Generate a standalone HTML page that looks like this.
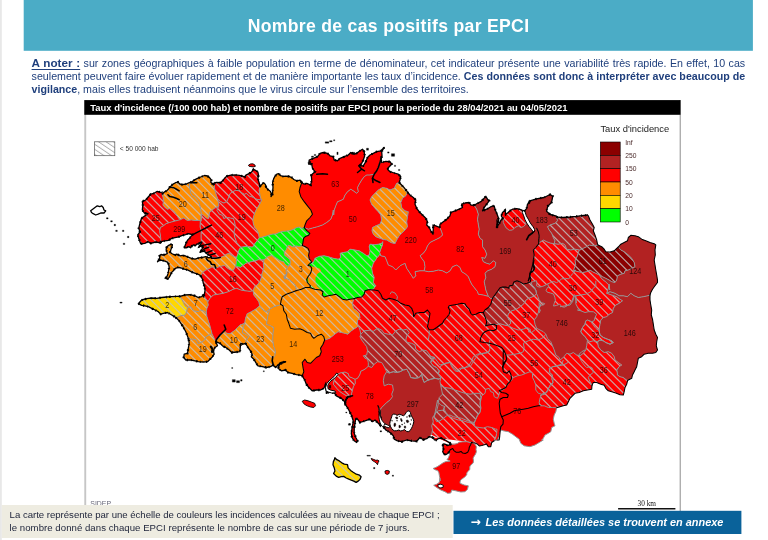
<!DOCTYPE html>
<html lang="fr">
<head>
<meta charset="utf-8">
<title>Nombre de cas positifs par EPCI</title>
<style>
html,body{margin:0;padding:0;}
body{width:768px;height:540px;overflow:hidden;background:#fff;position:relative;font-family:"Liberation Sans",sans-serif;}
.map{position:absolute;left:0;top:0;width:768px;height:540px;}
h1{position:absolute;left:24px;top:14.3px;width:729px;margin:0;text-align:center;color:#fff;font-weight:bold;font-size:17.6px;line-height:24px;letter-spacing:0.32px;white-space:nowrap;}
.note{position:absolute;left:31.6px;top:0;width:713.6px;height:100px;margin:0;color:#1f3f7c;font-size:10.67px;line-height:13px;}
.note .ln{position:absolute;left:0;width:713.6px;display:block;white-space:nowrap;text-align:justify;text-align-last:justify;height:13px;}
.note .l1{top:56.8px}.note .l2{top:69.9px}.note .l3{top:82.8px}
.note .ln.last{text-align-last:left;}
.note .an{font-weight:bold;font-size:11.7px;line-height:1px;text-decoration:underline;text-decoration-thickness:1px;text-underline-offset:1.5px;}
.note b{font-weight:bold;}
.cap{position:absolute;left:9.6px;top:507.5px;margin:0;color:#1c2238;font-size:9.6px;line-height:13.4px;white-space:nowrap;}
.cta{position:absolute;left:470.6px;top:510.9px;width:260px;margin:0;text-align:left;color:#fff;font-weight:bold;font-style:italic;font-size:10.93px;line-height:23px;white-space:nowrap;}
.cta .ar{font-family:"DejaVu Sans",sans-serif;font-style:normal;font-weight:bold;font-size:12.2px;line-height:1px;display:inline-block;width:14.9px;position:relative;top:0.6px;}
</style>
</head>
<body>
<svg class="map" width="768" height="540" viewBox="0 0 768 540">
<defs>
<filter id="bl" x="0" y="0" width="768" height="540" filterUnits="userSpaceOnUse"><feGaussianBlur stdDeviation="0.5"/></filter>
<path id="hl" d="M-522.9,100l420,420M-515,100l420,420M-507.1,100l420,420M-499.2,100l420,420M-491.3,100l420,420M-483.4,100l420,420M-475.5,100l420,420M-467.6,100l420,420M-459.7,100l420,420M-451.8,100l420,420M-443.9,100l420,420M-436,100l420,420M-428.1,100l420,420M-420.2,100l420,420M-412.3,100l420,420M-404.4,100l420,420M-396.5,100l420,420M-388.6,100l420,420M-380.7,100l420,420M-372.8,100l420,420M-364.9,100l420,420M-357,100l420,420M-349.1,100l420,420M-341.2,100l420,420M-333.3,100l420,420M-325.4,100l420,420M-317.5,100l420,420M-309.6,100l420,420M-301.7,100l420,420M-293.8,100l420,420M-285.9,100l420,420M-278,100l420,420M-270.1,100l420,420M-262.2,100l420,420M-254.3,100l420,420M-246.4,100l420,420M-238.5,100l420,420M-230.6,100l420,420M-222.7,100l420,420M-214.8,100l420,420M-206.9,100l420,420M-199,100l420,420M-191.1,100l420,420M-183.2,100l420,420M-175.3,100l420,420M-167.4,100l420,420M-159.5,100l420,420M-151.6,100l420,420M-143.7,100l420,420M-135.8,100l420,420M-127.9,100l420,420M-120,100l420,420M-112.1,100l420,420M-104.2,100l420,420M-96.3,100l420,420M-88.4,100l420,420M-80.5,100l420,420M-72.6,100l420,420M-64.7,100l420,420M-56.8,100l420,420M-48.9,100l420,420M-41,100l420,420M-33.1,100l420,420M-25.2,100l420,420M-17.3,100l420,420M-9.4,100l420,420M-1.5,100l420,420M6.4,100l420,420M14.3,100l420,420M22.2,100l420,420M30.1,100l420,420M38,100l420,420M45.9,100l420,420M53.8,100l420,420M61.7,100l420,420M69.6,100l420,420M77.5,100l420,420M85.4,100l420,420M93.3,100l420,420M101.2,100l420,420M109.1,100l420,420M117,100l420,420M124.9,100l420,420M132.8,100l420,420M140.7,100l420,420M148.6,100l420,420M156.5,100l420,420M164.4,100l420,420M172.3,100l420,420M180.2,100l420,420M188.1,100l420,420M196,100l420,420M203.9,100l420,420M211.8,100l420,420M219.7,100l420,420M227.6,100l420,420M235.5,100l420,420M243.4,100l420,420M251.3,100l420,420M259.2,100l420,420M267.1,100l420,420M275,100l420,420M282.9,100l420,420M290.8,100l420,420M298.7,100l420,420M306.6,100l420,420M314.5,100l420,420M322.4,100l420,420M330.3,100l420,420M338.2,100l420,420M346.1,100l420,420M354,100l420,420M361.9,100l420,420M369.8,100l420,420M377.7,100l420,420M385.6,100l420,420M393.5,100l420,420M401.4,100l420,420M409.3,100l420,420M417.2,100l420,420M425.1,100l420,420M433,100l420,420M440.9,100l420,420M448.8,100l420,420M456.7,100l420,420M464.6,100l420,420M472.5,100l420,420M480.4,100l420,420M488.3,100l420,420M496.2,100l420,420M504.1,100l420,420M512,100l420,420M519.9,100l420,420M527.8,100l420,420M535.7,100l420,420M543.6,100l420,420M551.5,100l420,420M559.4,100l420,420M567.3,100l420,420M575.2,100l420,420M583.1,100l420,420M591,100l420,420M598.9,100l420,420M606.8,100l420,420M614.7,100l420,420M622.6,100l420,420M630.5,100l420,420M638.4,100l420,420M646.3,100l420,420M654.2,100l420,420M662.1,100l420,420M670,100l420,420M677.9,100l420,420M685.8,100l420,420M693.7,100l420,420M701.6,100l420,420M709.5,100l420,420M717.4,100l420,420M725.3,100l420,420M733.2,100l420,420M741.1,100l420,420M749,100l420,420M756.9,100l420,420" fill="none" stroke="#c2c2c2" stroke-width="1.2" stroke-opacity="0.82"/>
<pattern id="h2" width="6" height="4.2" patternUnits="userSpaceOnUse" patternTransform="translate(95 142) rotate(34)"><rect x="0" y="1.6" width="6" height="0.75" fill="#999"/></pattern>
<clipPath id="c1"><path id="p1" d="M353.7,298.7 357.5,297.5 361.7,297 364.2,294.2 365,290.8 368.3,289.7 370,289.7 370,289.7 374.2,290 378.3,290.8 380.8,294.2 382.5,298.3 385.8,300 389.2,298.3 393.3,299.2 397.5,300.8 400.8,303.3 405,305 409.2,305.8 411.7,308.3 413.3,312.5 413.7,316.7 415.8,313.3 420,312.5 424.2,312.5 427.5,310 430,313.3 429.2,318.3 428.3,322.5 427.5,326.7 429.2,329.7 429.2,329.7 433.3,329.7 436.7,327.5 440,325 442.5,323.3 444.2,320 446.7,317.5 449.2,314.2 450,310.8 448.3,307.5 449.2,305.8 453.3,305 457.5,304.2 461.7,303.3 465,303.7 466.7,306.7 469.2,309.2 470.8,313.3 472.5,315 475.8,314.2 479.2,312.5 483.3,312.5 483.3,312.5 485,316.7 486.7,321.7 485.8,325.8 485.8,325.8 490,324.7 494.2,324.2 494.2,324.2 496.7,324.7 500,323.7 504.2,325 508.3,325.8 510.8,323.3 510,320 508.8,319.8 507.6,316.7 508.2,314.2 510.1,311.7 512.6,310.4 515.1,309.8 517.6,308.5 520.2,306.6 522.7,304.7 524.6,302.8 525.8,300.3 528.3,298.4 531.5,297.2 534.6,295.9 536.5,293.4 535.9,290.2 534,287.1 532.1,285.2 530.9,282.4 528.3,280.8 529.7,277.5 530,273.3 532.5,271.7 534.2,269.2 533,265 533.3,260 534.2,255 533.3,250 535.8,247.5 538.7,243.7 538.7,243.7 540.8,241.7 543.3,240 546.7,241.7 550,243 554.2,243.7 554.2,243.7 558.3,244.2 562.5,243.3 565,245 566.7,249.2 570.8,250 575,249.2 579.2,250 579.2,250 578.3,253.3 576.7,257.5 575,260.8 575.8,265 574.2,268.3 573.7,270.8 573.7,270.8 575,270.8 578.3,271.7 582.5,272.5 586.7,271.7 590,270 592.5,271.7 595.8,273.3 599.2,275 599.2,275 601.7,278.7 605.8,282 609.2,285.3 609.7,290 609.2,284.2 608.3,288.3 606.7,293.3 606.7,293.3 611.7,295 616.7,296.7 620,299.2 622.5,300.8 619.2,303.3 615.8,305 613.3,308.3 612.5,312.5 609.2,314.2 606.7,316.7 603.3,317.5 600.8,320 600,324.2 599.2,328.3 599.2,330.8 600,335 603.3,337.5 607.5,339.2 611.7,340.8 613.3,342.5 610,344.2 605.8,342.5 603.3,340.8 600,340 597.5,341.7 598.3,346.7 600.8,350 604.2,352.5 608.3,351.7 611.7,353.3 614.2,356.7 615,360 618.3,362.5 621.7,365 619.2,366.7 616.7,370 617,370.8 617.5,375 620,376.7 623.3,377.5 627.5,380.8 627.5,380.8 626.7,384.2 625,387.5 624.2,391.7 623.3,395 620,394.7 615.8,393 611.7,391.7 608.3,390.8 605.8,388.3 604.2,385.3 600.8,384.2 596.7,382.5 593.3,382.5 592,385.3 592,385.3 591.7,389.2 587.5,390 583.3,390.8 579.2,392.5 575,393.3 572.5,395.8 570,398.3 568.3,401.7 566.7,405 563.3,405.8 560,406.7 556.7,407.8 550,413.3 498.3,430 494.2,440.8 491.7,442.5 490.8,446.7 488.3,446.7 486.7,444.2 488.1,446.4 486.4,443.9 484.3,444.8 481.8,445.6 479.3,446 477.7,444.3 475.2,443.1 472.7,442.7 471.8,442.3 451,444.1 454.3,444.3 457.7,443.3 459.3,442.2 462.7,441.8 466.8,441.7 470.2,442.5 471.8,442.3 433,437.5 434.3,439.8 436,440.2 438.5,438.5 441,438.1 443.9,439.3 446.8,441 450.2,443.1 451,444.1 400,420 380,380 345,350 358.3,325.8 357.5,324.2 357.5,320.8 360,317.5 359.2,313.3 356.7,310.8 353.3,308.3 352.5,303.3 353.7,298.7Z"/></clipPath>
<clipPath id="c2"><path id="p2" d="M160.7,242.8 155.7,242 150.7,243.3 148.2,241.7 144.8,243.3 140.7,243.8 139.3,240 137.7,235 140,232 138.7,228.3 139.7,224.2 141.5,218.3 145.7,215.3 148,213.7 144.3,213 142.3,210 142.8,205 142.3,201.3 145.7,200 148.2,197 150.7,194.2 154,193.3 157.3,191.3 161,192.5 162.3,192 162.2,194 163,197.2 163.5,201 162.9,205 164.8,207.3 167.3,209.2 169.8,208.5 172.3,209.8 174.8,212.3 176.7,215.5 178.9,218.4 180.5,219.6 180.5,219.6 174.8,221.1 169.8,222.4 166,223.7 162.9,226.2 160.3,227.4 159.7,231.2 160.3,235 160.7,237.5 160.7,242.8Z"/></clipPath>
<clipPath id="c3"><path id="p3" d="M162.2,194 164.1,192.2 166.6,190.9 168.5,189 169.8,187.1 172.3,184.6 175.5,182.7 178,182.1 179.9,184 182.4,184.6 186.2,184 189.3,182.7 190.2,182.6 190.2,182.6 189.3,185.9 190,189.6 190.6,192.8 191.8,195.3 195,197.2 197.5,200.3 199.4,202.9 200,206 200.7,209.8 201.3,213.6 201,221.1 201,221.1 198.8,220.5 195,220.5 191.2,219.9 187.4,220.5 183.7,218 180.5,219.6 180.5,219.6 178.9,218.4 176.7,215.5 174.8,212.3 172.3,209.8 169.8,208.5 167.3,209.2 164.8,207.3 162.9,205 163.5,201 163,197.2 162.2,194Z"/></clipPath>
<clipPath id="c4"><path id="p4" d="M190.2,182.6 192.5,181.4 195,179.6 197.5,178.3 200.7,177 204.4,175.5 207.6,176 210.1,178.3 211.4,180.2 210.7,182.1 212.6,184 214.1,184.6 214.1,184.6 214.6,188.4 215.4,192.2 216.7,195.9 217.7,198.7 217.7,198.7 218.4,202.2 218.9,205.4 218.9,205.4 217.7,206.6 213.9,208.5 211.4,211.1 209.5,212.3 209.1,215.5 208.6,218.4 206.3,218 203.8,215.5 201.5,214.2 201,221.1 201,221.1 201.3,213.6 200.7,209.8 200,206 199.4,202.9 197.5,200.3 195,197.2 191.8,195.3 190.6,192.8 190,189.6 189.3,185.9 190.2,182.6Z"/></clipPath>
<clipPath id="c5"><path id="p5" d="M214.1,184.6 212.3,183.9 216.3,182.4 220.7,182.7 222.6,180.8 224.5,178.3 227,176.1 230.8,175.1 235.2,174.9 239.6,175.4 243,176.4 244.8,176.9 245.9,175.1 248.4,173.9 251.6,172 253.5,169.4 256,170.7 257.9,172 258.5,175.1 257.9,178.9 259.1,182.7 259.8,185.2 259.9,186.7 259.9,186.7 259.1,190.2 259.8,194 260.4,197.8 261.7,200.1 261.7,200.1 256.9,199.3 252.8,197.2 249.1,195.9 246.5,193.4 244.3,194.3 242.1,193 239,190.9 235.8,190.2 233.3,191.5 230.2,193.4 228.6,197.2 227,201.3 223.9,203.1 220.7,201.6 217.7,198.7 217.7,198.7 216.7,195.9 215.4,192.2 214.6,188.4 214.1,184.6Z"/></clipPath>
<clipPath id="c6"><path id="p6" d="M201.6,242.2 199.5,246.6 203.2,245.9 202,249.1 200.1,252.2 204.5,251.2 206.4,253.5 208.9,255 211.4,257 211.4,257 215.2,257.9 220.3,257.5 224,256 226.6,254.1 229.1,253.5 231.6,255.4 234.1,256.6 236.6,257.3 236.6,257.3 237.9,253.5 239.1,249.7 240.7,247.2 240.7,247.2 239.1,245.3 236.6,242.2 234.7,237.1 233.9,232.1 235.1,227.7 235.2,225.5 234.6,221.7 233.3,218.6 230.2,218 226.4,217.3 223.9,218.6 222.6,215.4 219.4,214.2 216.9,210.4 218.9,205.4 218.9,205.4 217.7,206.6 213.9,208.5 211.4,211.1 209.5,212.3 209.1,215.5 208.6,218.4 206.3,218 203.8,215.5 201.5,214.2 201,221.1 201,221.1 200.3,222 200.1,227 201.4,230.8 201.1,234.6 201.1,238.4 201.6,242.2Z"/></clipPath>
<clipPath id="c7"><path id="p7" d="M218.9,205.4 218.4,202.2 217.7,198.7 217.7,198.7 220.7,201.6 223.9,203.1 227,201.3 228.6,197.2 230.2,193.4 233.3,191.5 235.8,190.2 239,190.9 242.1,193 244.3,194.3 246.5,193.4 249.1,195.9 252.8,197.2 256.9,199.3 261.7,200.1 261.7,200.1 260.4,202.8 258.5,206 256.6,209.1 254.7,212.9 253.5,216.7 252.8,220.5 253.5,224.3 254.7,227.6 256.3,229.1 258.2,232.6 258.9,235.8 259.2,237.9 259.2,237.9 257,240.8 254.5,244 252.6,247.1 249.4,246.7 245.6,246.5 240.7,247.2 240.7,247.2 239.1,245.3 236.6,242.2 234.7,237.1 233.9,232.1 235.1,227.7 235.2,225.5 234.6,221.7 233.3,218.6 230.2,218 226.4,217.3 223.9,218.6 222.6,215.4 219.4,214.2 216.9,210.4 218.9,205.4Z"/></clipPath>
<clipPath id="c8"><path id="p8" d="M211.4,257 208.9,257.9 205.8,256.6 202.6,257.3 198.8,257.9 195.1,259.2 191.9,258.5 188.8,257.3 185.6,256 182.5,255.4 179.9,255.8 176.8,254.1 175.5,255 173.6,254.5 171.7,253.5 170.1,252.2 171.1,249.1 172.1,246.6 172.4,244.7 170.9,244.4 168.6,245.3 166.7,247.2 166.1,249.1 166.7,251.6 167.3,253.5 165.4,254.5 162.9,255 161,254.5 159.5,256 159.8,257.9 158.5,259.8 157.5,261.8 159.8,260 162.3,260.4 164.8,261.1 167.3,262.1 168.6,264.2 169.2,267.4 168.6,270.5 168,273.7 167.1,276.2 165.8,278.1 167.3,279.3 169.2,277.4 170.5,274.9 171.7,272.4 173.6,270.5 174.9,268.6 178,267.4 181.2,268 184.3,269.2 187.5,269.9 190,271.1 192.5,272.4 196.3,273.7 199.5,274.9 200.7,275.9 200.7,275.9 202.6,272.4 205.1,270.5 207.7,269.2 210.2,268 212.1,266.7 215.2,268 216.5,268 219,266.7 221.5,266.1 224.7,265.5 227.2,268 230.3,269.9 233.1,270.5 235.6,266.3 235.6,266.3 236,264.8 236.4,261.1 236.6,257.3 236.6,257.3 234.1,256.6 231.6,255.4 229.1,253.5 226.6,254.1 224,256 220.3,257.5 215.2,257.9 211.4,257Z"/></clipPath>
<clipPath id="c9"><path id="p9" d="M236.6,257.3 237.9,253.5 239.1,249.7 240.7,247.2 240.7,247.2 245.6,246.5 249.4,246.7 252.6,247.1 254.5,244 257,240.8 259.2,237.9 259.2,237.9 262.6,237 265.8,236.2 269.6,234.9 272.7,234.1 275.9,233.9 279,232.6 282.2,231.4 286,231.1 289.7,230.7 292.9,229.5 296.7,227.6 299.2,227 301.7,228.2 304.2,227.6 304.2,227.6 306.7,230.7 309.9,233.3 308.6,235.2 305.5,236.4 303.6,238.3 303,242.1 302.3,245.6 302.3,245.6 299.2,246.5 296,245.9 292.9,247.1 291,245.9 288.5,245.2 287.2,247.1 286,250.3 284.1,252.2 284.7,255.3 287.2,257.2 289.7,259.1 290.4,262.2 289.7,265.4 289.7,265.4 287.2,266 284.7,263.5 283.4,261.6 280.9,261 278.4,259.7 275.9,257.8 273.4,256.6 271.5,255.6 268.3,256.3 265.8,258.5 263.9,259.7 263.9,259.7 260.8,260.1 258.2,259.7 255.1,261 251.9,261.6 248.2,262.6 245.6,263.5 243.1,265.4 240.6,267.3 238.7,266.9 235.6,266.3 235.6,266.3 236,264.8 236.4,261.1 236.6,257.3Z"/></clipPath>
<clipPath id="c10"><path id="p10" d="M180,296.3 176.7,296.3 171.7,296.7 166.7,297 161.7,297.5 156.7,298.3 151.7,298 146.7,298.7 141.7,300 138.3,303.7 141.7,305.3 145,305.8 148.3,306.7 151.7,308.3 155,310 158.3,311.7 160.8,314.2 163.3,313.3 167.5,312.5 171.7,315 175.8,317.5 175.8,317.5 176.7,317.5 180,315.8 185,315 186.7,311.7 187.5,307.5 187.5,307.5 185,305.8 183.3,302.5 181.7,299.2 180,296.3Z"/></clipPath>
<clipPath id="c11"><path id="p11" d="M203.3,295 201.7,296.7 198.3,297.5 195,295.8 190,294.7 185,295 180,296.3 180,296.3 181.7,299.2 183.3,302.5 185,305.8 187.5,307.5 187.5,307.5 190.8,306.7 193.3,310.8 198.3,311.7 200.8,310 203.3,310.8 205.8,312.5 206.7,315 206.7,315 206.3,311.7 207,308.3 208.3,305 207.7,302 207.7,302 205.8,298.7 203.3,295Z"/></clipPath>
<clipPath id="c12"><path id="p12" d="M175.8,317.5 179.2,320.8 182.5,325.8 185.8,331.7 188.3,338.3 188.7,340 188.7,340 192.5,338.8 196.3,340 198,343.7 202,342 204.7,340 205.8,336.7 209.2,335 212,333.7 212,333.7 210.8,329.2 209.7,325 208.3,320.8 207,316.7 206.7,315 206.7,315 205.8,312.5 203.3,310.8 200.8,310 198.3,311.7 193.3,310.8 190.8,306.7 187.5,307.5 187.5,307.5 186.7,311.7 185,315 180,315.8 176.7,317.5 175.8,317.5Z"/></clipPath>
<clipPath id="c13"><path id="p13" d="M188.7,340 189.2,343.3 188.3,348.3 187.5,353.3 184.2,354.2 183.7,357.5 185.8,360 190.8,360 195,360.8 198.3,361.7 203.3,362 207.5,361.7 210,359.2 212.5,356.7 214.2,354.2 213.3,350.8 215,347.5 217.5,345.8 215.8,341.7 215.8,341.7 214.2,338.3 213,335.8 212,333.7 212,333.7 209.2,335 205.8,336.7 204.7,340 202,342 198,343.7 196.3,340 192.5,338.8 188.7,340Z"/></clipPath>
<clipPath id="c14"><path id="p14" d="M215.8,341.7 220,343.3 222.5,345.8 225.8,347.5 229.2,350 231.7,352.5 236.7,352 240,351.7 240.3,346.7 240.8,343.3 243.3,344.2 245.5,343.3 245.5,343.3 246.3,340 248.8,336.7 245.5,334.2 242.2,332.5 243,328.3 244.7,323.3 244.7,323.3 240,325 236.7,328.3 234.2,330.8 230,333.7 226.7,333.3 224.2,330.8 222.5,333.7 220,335.8 217.5,339.2 215.8,341.7Z"/></clipPath>
<clipPath id="c15"><path id="p15" d="M200.7,275.9 202.5,279.2 203.3,283.3 204.7,286.7 205,290.8 204.2,294.7 203.7,297 203.3,295 203.3,295 205.8,298.7 207.7,302 207.7,302 210,298.3 213.3,295 218.3,294.2 223.3,293.3 228.3,291.7 233.3,289.2 236.7,288.3 240.8,290 245,290.8 250,291.3 253,290.8 253,290.8 254.7,286.7 258,284.2 260.5,280 262.2,275 261.4,275.5 262.6,271.7 263.9,267.9 263.3,264.1 263.9,259.7 263.9,259.7 260.8,260.1 258.2,259.7 255.1,261 251.9,261.6 248.2,262.6 245.6,263.5 243.1,265.4 240.6,267.3 238.7,266.9 235.6,266.3 235.6,266.3 233.1,270.5 230.3,269.9 227.2,268 224.7,265.5 221.5,266.1 219,266.7 216.5,268 215.2,268 212.1,266.7 210.2,268 207.7,269.2 205.1,270.5 202.6,272.4 200.7,275.9Z"/></clipPath>
<clipPath id="c16"><path id="p16" d="M263.9,259.7 265.8,258.5 268.3,256.3 271.5,255.6 273.4,256.6 275.9,257.8 278.4,259.7 280.9,261 283.4,261.6 284.7,263.5 287.2,266 289.7,265.4 289.7,265.4 287.2,267.9 286,271.1 286.6,274.2 284.1,276.7 284.7,279.3 287.2,272.5 283.8,277.5 289.7,280 294.7,284.2 296.3,288.3 296,290.8 296,290.8 291.3,292.5 286.3,294.2 282.2,296.7 281,300.8 280.5,304.2 280.5,304.2 279.7,305 273.8,306.7 269.7,309.2 269.7,309.2 266.3,311.7 263,310 259.7,305.8 259.7,305.8 258.8,301.7 256.3,298.3 253.8,295 253,290.8 253,290.8 254.7,286.7 258,284.2 260.5,280 262.2,275 261.4,275.5 262.6,271.7 263.9,267.9 263.3,264.1 263.9,259.7Z"/></clipPath>
<clipPath id="c17"><path id="p17" d="M289.7,265.4 290.4,262.2 289.7,259.1 287.2,257.2 284.7,255.3 284.1,252.2 286,250.3 287.2,247.1 288.5,245.2 291,245.9 292.9,247.1 296,245.9 299.2,246.5 302.3,245.6 302.3,245.6 304.9,246.5 308,248.4 309.3,251.5 308.6,255.3 309.3,259.1 311.1,261 311.4,262.4 311.4,262.4 309.9,263.5 308,265.4 310.5,266 311.8,268.5 311.1,271.7 309.9,274.2 308,276.7 306.7,279.3 307.3,282.5 310.5,285.8 309.7,287.5 309.7,287.5 305.5,287.5 301.3,289.2 296,290.8 296,290.8 296.3,288.3 294.7,284.2 289.7,280 283.8,277.5 287.2,272.5 284.7,279.3 284.1,276.7 286.6,274.2 286,271.1 287.2,267.9 289.7,265.4Z"/></clipPath>
<clipPath id="c18"><path id="p18" d="M245.5,343.3 248,347.5 250.5,350.8 252.2,354.2 251.3,356.7 253.8,359.2 256.3,363.3 258,365.8 262.2,366.7 266.3,367.5 270.5,366.7 273,365 273,365 272.2,360.8 273,357.5 274.7,355.8 275.5,351.7 273.8,346.7 272.7,340 273,333.3 273.8,327.5 270.5,325.8 266.3,324.2 267.2,320 268,315 269.7,309.2 269.7,309.2 266.3,311.7 263,310 259.7,305.8 259.7,305.8 255.5,309.2 251.3,311.7 247.2,313.7 245.5,318.3 244.7,323.3 244.7,323.3 243,328.3 242.2,332.5 245.5,334.2 248.8,336.7 246.3,340 245.5,343.3Z"/></clipPath>
<clipPath id="c19"><path id="p19" d="M336.7,375 335.8,375.8 334.2,380 333.3,384.2 336.7,388.3 340,391.7 345,395 346.7,395.8 350.8,396.3 350.8,396.3 351.7,393.3 352.5,390 353.3,386.7 355.3,383.3 355,379.3 355,379.3 352.5,378 349.2,376.7 348.3,373.7 345,372 340,373 336.7,375Z"/></clipPath>
<clipPath id="c20"><path id="p20" d="M360.8,334.2 364.2,330.8 369.2,330.3 373.3,331.3 377.5,328.3 381.7,330 384.2,333.3 388.3,334.2 392.5,335 395.8,330.8 399.2,329.2 403.3,330 406.7,329.2 409.2,332.5 406.7,335.8 405.8,340 407.5,342.5 411.7,343.3 415,345 415.8,349.2 419.2,351.7 423.3,350 426.7,350.8 429.2,354.2 429.2,354.2 430.8,356.7 435,357.5 431.7,359.2 430.8,362.5 433.3,365.8 436.7,367.5 439.2,370.8 438.3,374.2 440.8,377.5 440.8,377.5 439.2,379.2 435,378.3 430.8,379.2 426.7,380.8 424.2,382.5 422.5,378.3 421.7,374.2 419.2,377.5 415,378.3 410.8,377.5 409.2,373.3 406.7,369.2 403.3,370 400,371.7 396.7,372.5 393.3,371.7 389.2,373 386.7,371.7 386.7,371.7 385,368.3 383.3,365 381.7,362.5 377.5,361.7 374.2,364.2 371.7,367.5 368.3,366.3 368.3,366.3 368.3,362.5 367.5,359.2 365,358.3 363.3,355.8 366.7,355 367.5,350.8 366.7,346.7 364.2,343.3 361.7,340 360,336.7 360.8,334.2Z"/></clipPath>
<clipPath id="c21"><path id="p21" d="M399.2,182.5 403.3,186.7 406.7,190.8 407.5,192.2 407.5,192.2 405.8,195.8 402.5,198.3 400.8,202.5 401.7,207.5 405,210.8 408.3,211.7 407.5,216.7 406.7,221.7 407.5,226.7 405,230 401.7,233.3 399.2,235.8 396.7,240 395,243.7 390.8,242.5 386.7,240 383.3,239.5 383.3,239.5 379.2,238 375.8,236.7 373.3,234.2 372,230.8 372.5,227.5 375.8,225.8 380,224.2 381.7,220 380.8,215 378.3,211.7 375,208.3 371.7,204.2 370,200 371.7,196.7 375,193.3 378.3,190 382.5,187.5 386.7,188.3 390,190 394.2,188.3 396.7,183.3 399.2,182.5Z"/></clipPath>
<clipPath id="c22"><path id="p22" d="M503,218.7 501.3,215.8 502.5,212.5 505,210.3 505.8,214.2 507.5,213 510,210.8 512.5,209.2 516.7,208.7 520.8,209.7 524.2,211.3 525.8,215.8 526.7,217.5 526.7,217.5 525.8,224.2 523.3,226.7 520.8,227.5 518.3,225.8 515,227.5 512.5,230 509.2,230.3 505.8,227.5 503.3,222.5 503,218.7Z"/></clipPath>
<clipPath id="c23"><path id="p23" d="M556.7,217.2 563.3,217.5 570,217 576.7,216.3 580,215.8 587.5,215 587.5,215 588.3,215.8 590,220 592.5,224.2 594.2,227.5 593.3,230.8 595,235 596.7,240 597.5,244.2 598,245 598,245 593.3,245.8 589.2,245 586.7,246.7 583.3,248.3 580,250 579.2,250 579.2,250 575,249.2 570.8,250 566.7,249.2 565,245 562.5,243.3 558.3,244.2 554.2,243.7 554.2,243.7 555,240.8 553.3,237.5 551.7,233.3 549.2,230 547.5,226.7 550,225 555,223.3 557.5,220.8 556.7,217.2Z"/></clipPath>
<clipPath id="c24"><path id="p24" d="M598,245 601.7,246.7 604.2,249.2 605.8,251.7 610,252 614.2,250.8 616.7,248.3 618.3,247 618.3,247 620.8,250 624.2,251.7 628.3,255 631.7,258.3 634.2,262.5 635,266.7 631.7,268.3 628.3,270 625,270.8 624.2,273.3 620.8,274.2 617.5,275.8 616.7,280 615,282.5 611.7,281.7 609.2,280 605.8,278.3 602.5,276.7 599.2,275 599.2,275 595.8,273.3 592.5,271.7 590,270 586.7,271.7 582.5,272.5 578.3,271.7 575,270.8 573.7,270.8 573.7,270.8 574.2,268.3 575.8,265 575,260.8 576.7,257.5 578.3,253.3 579.2,250 579.2,250 580,250 583.3,248.3 586.7,246.7 589.2,245 593.3,245.8 598,245Z"/></clipPath>
<clipPath id="c25"><path id="p25" d="M311.4,262.4 313.3,262.5 315,258.3 319.2,256.3 324.2,255.8 328.3,256.7 333.3,258.3 338.3,259.2 340.8,257.5 340,253.3 343.3,252.5 347.5,251.7 350,249.2 355,250 359.2,250.8 363.3,253.3 366.7,255.8 369.2,255 370,250.8 369.2,246.7 370,244.2 374.2,244.7 378.3,244.2 381.7,243.3 382.8,241.7 382.8,241.7 382.5,245 380.8,249.2 379.7,252.5 380.8,255.8 380.8,255.8 380,254.2 376.7,258.3 373.3,263.3 371.7,268.3 372.5,273.3 374.2,277.5 373.3,282.5 375.8,285.8 373.3,289.2 370,289.7 370,289.7 368.3,289.7 365,290.8 364.2,294.2 361.7,297 357.5,297.5 353.7,298.7 353.7,298.7 350,299.2 346.7,300 342.5,299.2 339.2,296.7 335.8,294.2 332.5,295 328.3,295.8 324.2,297 322.2,295 323,291.7 320.5,290 314.7,289.2 309.7,287.5 309.7,287.5 310.5,285.8 307.3,282.5 306.7,279.3 308,276.7 309.9,274.2 311.1,271.7 311.8,268.5 310.5,266 308,265.4 309.9,263.5 311.4,262.4Z"/></clipPath>
<clipPath id="c26"><path id="p26" d="M309.7,287.5 314.7,289.2 320.5,290 323,291.7 322.2,295 324.2,297 328.3,295.8 332.5,295 335.8,294.2 339.2,296.7 342.5,299.2 346.7,300 350,299.2 353.7,298.7 353.7,298.7 352.5,303.3 353.3,308.3 356.7,310.8 359.2,313.3 360,317.5 357.5,320.8 357.5,324.2 358.3,325.8 358.3,325.8 357.5,326.7 351.3,330.8 348,334.2 344.7,333.3 338,331.7 334.7,334.2 329.7,338.3 324.7,340 324.7,340 323.8,336.7 321.3,334.2 317.2,335.8 313.8,338.3 312.2,336.7 310.5,333.3 307.2,332.5 303,330 299.7,328.7 294.7,329.2 290.5,328.3 288.8,323.3 287.2,319.2 286.3,314.2 283.8,310.8 283,305.8 280.5,304.2 280.5,304.2 281,300.8 282.2,296.7 286.3,294.2 291.3,292.5 296,290.8 296,290.8 301.3,289.2 305.5,287.5 309.7,287.5Z"/></clipPath>
<clipPath id="c27"><path id="p27" d="M528.3,280.8 534,260 533.4,263.8 534.6,267.6 533.4,270.7 530.2,272 529.6,275.7 530.9,278.9 530.2,282 527.1,283.3 523.3,283.9 520.2,282 517,280.8 513.9,282 512.6,285.2 509.4,285.8 508.8,288.3 506.3,287.1 502.5,287.1 500,287.7 492.5,298.3 492.5,298.3 490.8,304.2 488.3,307.5 485,310 483.3,312.5 483.3,312.5 485,316.7 486.7,321.7 485.8,325.8 485.8,325.8 490,324.7 494.2,324.2 494.2,324.2 496.7,324.7 500,323.7 504.2,325 508.3,325.8 510.8,323.3 510,320 508.8,319.8 507.6,316.7 508.2,314.2 510.1,311.7 512.6,310.4 515.1,309.8 517.6,308.5 520.2,306.6 522.7,304.7 524.6,302.8 525.8,300.3 528.3,298.4 531.5,297.2 534.6,295.9 536.5,293.4 535.9,290.2 534,287.1 532.1,285.2 530.9,282.4Z"/></clipPath>
<clipPath id="c28"><path id="p28" d="M587.5,320 590.8,321.7 593.3,325 595.8,328.3 599.2,330.8 600,335 603.3,337.5 607.5,339.2 611.7,340.8 613.3,342.5 610,344.2 605.8,342.5 603.3,340.8 600,340 597.5,341.7 593.3,340.8 590,341.7 587.5,340 585,336.7 582.5,334.2 580.8,331.7 582.5,327.5 585,324.2 585.8,320.8Z"/></clipPath>
<clipPath id="c29"><path id="p29" d="M440.8,385.8 445,387.5 450,388.3 455,390 460,391.7 465,393.3 470,394.2 475,393.3 480,393.3 480.8,397.5 480,402.5 480.8,407.5 480,411.7 477.5,415 475.8,419.2 474.2,422.5 470,421.7 465.8,420 461.7,418.3 457.5,417.5 453.3,416.7 450,415 446.7,415.8 443.3,418.3 440,420.8 436.7,421.7 434.2,417.5 435,413.3 438.3,410.8 443.3,410 445,406.7 440.8,405 438.3,402.5 439.2,397.5 442.5,394.2 441.7,390Z"/></clipPath>
<clipPath id="c30"><path id="p30" d="M334.9,457.8 336.8,459.7 339.3,460.9 341.8,462.8 344.3,464.1 347.5,464.7 348.1,467.9 350.6,470.4 353.2,472.3 356.3,474.2 359.5,475.2 361.1,476.7 360.1,479.2 358.2,481.1 356.1,482.4 353.8,481.1 351.3,480.2 348.8,479.2 346.2,478 343.7,476.4 341.2,476.7 338.7,477.3 336.2,476.1 333.6,473.5 334.9,471 334.3,467.9 333,464.7 333.4,461.6 334.6,459.1 334.9,457.8Z"/></clipPath>
<clipPath id="c31"><path id="p31" d="M311.2,266.2 316.2,267.5 320,268.8 321.2,271.2 317.5,273.8 315.5,277.5 315.5,282.5 317,286.2 320,288.8 316.2,290 313.8,287.5 308.8,283.8 307.5,277.5 311.2,272.5 308.8,267.5Z"/></clipPath>
</defs>
<rect x="0" y="0" width="1.8" height="540" fill="#e8e8e8"/>
<rect x="23.7" y="0" width="729.2" height="50.8" fill="#4bacc6"/>
<g filter="url(#bl)">
<rect x="84.3" y="100" width="1.9" height="412" fill="#c6c6c6"/><rect x="679.7" y="100" width="1" height="412" fill="#8e8e8e"/>
<rect x="84.3" y="100.1" width="596.2" height="14.7" fill="#000"/>
<text x="90.3" y="110.5" font-family="Liberation Sans, sans-serif" font-weight="bold" font-size="9.42" fill="#fff">Taux d'incidence (/100 000 hab) et nombre de positifs par EPCI pour la periode du 28/04/2021 au 04/05/2021</text>
<use href="#p1" fill="#ff0000"/><use href="#hl" clip-path="url(#c1)"/>
<use href="#p2" fill="#ff0000"/><use href="#hl" clip-path="url(#c2)"/>
<use href="#p3" fill="#ff8c00"/><use href="#hl" clip-path="url(#c3)"/>
<use href="#p4" fill="#ff8c00"/><use href="#hl" clip-path="url(#c4)"/>
<use href="#p5" fill="#ff0000"/><use href="#hl" clip-path="url(#c5)"/>
<path fill="#ff0000" d="M160.7,242.8 160.8,241.7 164.8,240.9 168.6,240.3 171.7,238.4 174.9,237.7 178.7,236.9 181.8,235.6 185.6,234.6 188.1,233.6 190,234 192.5,234.6 190,237.7 187.5,240.3 186.2,242.8 185.2,245.3 184.3,247.8 186.2,247.8 188.8,246.6 190.6,247.8 191.9,245.9 193.8,244.7 195.3,245.9 196.9,244 198.8,244 200.1,242.4 201.6,242.2 201.6,242.2 201.1,238.4 201.1,234.6 201.4,230.8 200.1,227 200.3,222 201,221.1 201,221.1 198.8,220.5 195,220.5 191.2,219.9 187.4,220.5 183.7,218 180.5,219.6 180.5,219.6 174.8,221.1 169.8,222.4 166,223.7 162.9,226.2 160.3,227.4 159.7,231.2 160.3,235 160.7,237.5 160.7,242.8Z"/>
<use href="#p6" fill="#ff0000"/><use href="#hl" clip-path="url(#c6)"/>
<use href="#p7" fill="#ff0000"/><use href="#hl" clip-path="url(#c7)"/>
<path fill="#ff8c00" d="M259.9,186.7 261.7,184.6 263.5,182.7 264.4,183.3 265.4,184.6 266.1,187.1 268,189.6 270.5,191.5 271.5,194 271,196.5 272.4,194.6 272.7,191.5 273,187.1 272.6,182.7 273.6,178.9 274.9,176.4 276.8,174.1 278.7,173.6 280.6,175.7 283.1,176.4 285.6,176.1 288.7,176.4 291.9,177.6 293.8,179.5 296.9,180.8 300.1,180.2 301.3,182 301.7,182.9 301.7,182.9 300,187.5 299.2,191.7 300.8,196.7 304.2,201.7 307.5,205.8 310.8,210 312.5,214.2 310,217.5 306.7,220.8 305,225 304.2,227.6 304.2,227.6 301.7,228.2 299.2,227 296.7,227.6 292.9,229.5 289.7,230.7 286,231.1 282.2,231.4 279,232.6 275.9,233.9 272.7,234.1 269.6,234.9 265.8,236.2 262.6,237 259.2,237.9 259.2,237.9 258.9,235.8 258.2,232.6 256.3,229.1 254.7,227.6 253.5,224.3 252.8,220.5 253.5,216.7 254.7,212.9 256.6,209.1 258.5,206 260.4,202.8 261.7,200.1 261.7,200.1 260.4,197.8 259.8,194 259.1,190.2 259.9,186.7Z"/>
<use href="#p8" fill="#ff8c00"/><use href="#hl" clip-path="url(#c8)"/>
<use href="#p9" fill="#00ff00"/><use href="#hl" clip-path="url(#c9)"/>
<use href="#p10" fill="#ffd700"/><use href="#hl" clip-path="url(#c10)"/>
<use href="#p11" fill="#ff8c00"/><use href="#hl" clip-path="url(#c11)"/>
<use href="#p12" fill="#ff8c00"/><use href="#hl" clip-path="url(#c12)"/>
<use href="#p13" fill="#ff8c00"/><use href="#hl" clip-path="url(#c13)"/>
<path fill="#ff0000" d="M207.7,302 210,298.3 213.3,295 218.3,294.2 223.3,293.3 228.3,291.7 233.3,289.2 236.7,288.3 240.8,290 245,290.8 250,291.3 253,290.8 253,290.8 253.8,295 256.3,298.3 258.8,301.7 259.7,305.8 259.7,305.8 255.5,309.2 251.3,311.7 247.2,313.7 245.5,318.3 244.7,323.3 244.7,323.3 240,325 236.7,328.3 234.2,330.8 230,333.7 226.7,333.3 224.2,330.8 222.5,333.7 220,335.8 217.5,339.2 215.8,341.7 215.8,341.7 214.2,338.3 213,335.8 212,333.7 212,333.7 210.8,329.2 209.7,325 208.3,320.8 207,316.7 206.7,315 206.7,315 206.3,311.7 207,308.3 208.3,305 207.7,302Z"/>
<use href="#p14" fill="#ff8c00"/><use href="#hl" clip-path="url(#c14)"/>
<use href="#p15" fill="#ff0000"/><use href="#hl" clip-path="url(#c15)"/>
<use href="#p16" fill="#ff8c00"/><use href="#hl" clip-path="url(#c16)"/>
<use href="#p17" fill="#ff8c00"/><use href="#hl" clip-path="url(#c17)"/>
<use href="#p18" fill="#ff8c00"/><use href="#hl" clip-path="url(#c18)"/>
<path fill="#ff8c00" d="M273,365 275.5,367.5 278,365 281.3,362.5 285.5,361.7 279.7,364.2 278,368.3 281.3,370.8 285.5,370 288,372.5 292.2,373.3 296.3,374.7 301.3,375.3 302.2,375.8 302.2,375.8 303.8,371.7 303,367.5 302.2,362.5 305,359.2 307.2,362.5 310.5,363.3 313.8,360 316.3,357.5 319.7,355.8 321.3,351.7 320.5,348.3 323,344.2 324.7,340 324.7,340 323.8,336.7 321.3,334.2 317.2,335.8 313.8,338.3 312.2,336.7 310.5,333.3 307.2,332.5 303,330 299.7,328.7 294.7,329.2 290.5,328.3 288.8,323.3 287.2,319.2 286.3,314.2 283.8,310.8 283,305.8 280.5,304.2 280.5,304.2 279.7,305 273.8,306.7 269.7,309.2 269.7,309.2 268,315 267.2,320 266.3,324.2 270.5,325.8 273.8,327.5 273,333.3 272.7,340 273.8,346.7 275.5,351.7 274.7,355.8 273,357.5 272.2,360.8 273,365Z"/>
<use href="#p19" fill="#ff0000"/><use href="#hl" clip-path="url(#c19)"/>
<path fill="#ff0000" d="M302.2,375.8 304.7,380 306.3,384.2 308.8,387.5 312.2,390.8 316.3,390 320.5,390 323.8,388.3 325.5,385 326.3,390 326.3,393.3 329.7,391.7 334.7,393.3 336.3,395.8 341.3,398.3 344.7,401.7 345,404.2 345.8,400 347.5,397 350.8,396.3 350.8,396.3 346.7,395.8 345,395 340,391.7 336.7,388.3 333.3,384.2 334.2,380 335.8,375.8 336.7,375 336.7,375 340,373 345,372 348.3,373.7 349.2,376.7 352.5,378 355,379.3 355,379.3 357.5,378.3 359.7,375 360.8,371.3 365,369.2 368.3,366.3 368.3,366.3 368.3,362.5 367.5,359.2 365,358.3 363.3,355.8 366.7,355 367.5,350.8 366.7,346.7 364.2,343.3 361.7,340 360,336.7 360.8,334.2 360.8,334.2 360,330 358.3,325.8 358.3,325.8 357.5,326.7 351.3,330.8 348,334.2 344.7,333.3 338,331.7 334.7,334.2 329.7,338.3 324.7,340 324.7,340 323,344.2 320.5,348.3 321.3,351.7 319.7,355.8 316.3,357.5 313.8,360 310.5,363.3 307.2,362.5 305,359.2 302.2,362.5 303,367.5 303.8,371.7 302.2,375.8Z"/>
<use href="#p20" fill="#b22222"/><use href="#hl" clip-path="url(#c20)"/>
<path fill="#ff0000" d="M301.7,182.9 301.7,182.5 304.2,184.2 306.7,183.3 310.8,185 311.7,180 311.3,175 315,171.7 312.5,168.3 311.7,164.2 308.7,164.2 309.2,160 313.3,158.3 317.5,156.7 320,153.3 323.3,152.5 327.5,153.3 330,155.8 333.3,156.7 334.2,160 337.5,160.8 340,158.3 344.2,156.7 348.3,155 350.8,152.5 354.2,154.2 356.7,153.3 360,150.8 362.5,149.2 364.2,151.7 364.7,155.8 363.3,160 361.7,163.3 360,165.8 363.3,165.8 365.8,161.7 367.5,157.5 370,155 373.3,153.3 376.7,151.7 380.8,150.8 384.2,147.5 381.7,151.7 382,155.8 380.8,160 380.8,160 378.3,167.5 376.7,170.8 374.2,174.2 370,175 366.7,175 364.2,176.7 361.7,180 359.2,184.2 357.5,187.5 358.3,191.7 356.7,193.3 353.3,190.8 350.8,189.2 347.5,191.7 345,195 343.3,199.2 340,200.8 337.5,201.7 335.8,205.8 334.2,210 333.7,215 333.3,210 332.5,215 330.8,219.2 326.7,222.5 322.5,225 317.5,226.7 312.5,228 308.3,229.2 304.2,227.6 304.2,227.6 305,225 306.7,220.8 310,217.5 312.5,214.2 310.8,210 307.5,205.8 304.2,201.7 300.8,196.7 299.2,191.7 300,187.5 301.7,182.9Z"/>
<path fill="#ff0000" d="M380.8,160 381.7,162.5 385.8,161.3 390,161.7 391.7,164.2 389.2,166.7 387.5,169.2 390,171.7 394.2,173 398.3,174.2 400.8,176.7 400,180 399.2,182.5 399.2,182.5 396.7,183.3 394.2,188.3 390,190 386.7,188.3 382.5,187.5 378.3,190 375,193.3 371.7,196.7 370,200 371.7,204.2 375,208.3 378.3,211.7 380.8,215 381.7,220 380,224.2 375.8,225.8 372.5,227.5 372,230.8 373.3,234.2 375.8,236.7 379.2,238 383.3,239.5 383.3,239.5 382.8,241.7 382.8,241.7 381.7,243.3 378.3,244.2 374.2,244.7 370,244.2 369.2,246.7 370,250.8 369.2,255 366.7,255.8 363.3,253.3 359.2,250.8 355,250 350,249.2 347.5,251.7 343.3,252.5 340,253.3 340.8,257.5 338.3,259.2 333.3,258.3 328.3,256.7 324.2,255.8 319.2,256.3 315,258.3 313.3,262.5 311.4,262.4 311.4,262.4 311.1,261 309.3,259.1 308.6,255.3 309.3,251.5 308,248.4 304.9,246.5 302.3,245.6 302.3,245.6 303,242.1 303.6,238.3 305.5,236.4 308.6,235.2 309.9,233.3 306.7,230.7 304.2,227.6 304.2,227.6 308.3,229.2 312.5,228 317.5,226.7 322.5,225 326.7,222.5 330.8,219.2 332.5,215 333.3,210 333.7,215 334.2,210 335.8,205.8 337.5,201.7 340,200.8 343.3,199.2 345,195 347.5,191.7 350.8,189.2 353.3,190.8 356.7,193.3 358.3,191.7 357.5,187.5 359.2,184.2 361.7,180 364.2,176.7 366.7,175 370,175 374.2,174.2 376.7,170.8 378.3,167.5 380.8,160Z"/>
<use href="#p21" fill="#ff8c00"/><use href="#hl" clip-path="url(#c21)"/>
<path fill="#ff0000" d="M407.5,192.2 410,195 413.3,197.5 415.8,200 415,204.2 416.7,208.3 419.2,211.7 422.5,215 425.8,218.3 427.5,221.7 426.7,225 429.2,227.5 430.8,230.8 433,234.2 433.3,229.2 433,225 435.8,225.8 439.7,227.5 439.7,227.5 441.7,231.7 442.5,235 440,237.5 436.7,239.2 433.3,240.8 430,242.5 427.5,245.8 425.8,250 423.3,253.3 420,255.8 420,255.8 421.7,258.3 424.2,261.7 425,266.7 424.2,270.8 424.2,270.8 420,270.8 415,271.7 415.8,275.8 413.3,278.3 410,273.3 406.7,268.3 405,263.3 400,265.8 395.8,270 392.5,266.7 388.3,265 386.7,260.8 385,256.7 380.8,255.8 380.8,255.8 379.7,252.5 380.8,249.2 382.5,245 382.8,241.7 382.8,241.7 383.3,239.5 383.3,239.5 386.7,240 390.8,242.5 395,243.7 396.7,240 399.2,235.8 401.7,233.3 405,230 407.5,226.7 406.7,221.7 407.5,216.7 408.3,211.7 405,210.8 401.7,207.5 400.8,202.5 402.5,198.3 405.8,195.8 407.5,192.2Z"/>
<path fill="#ff0000" d="M439.7,227.5 440,224.2 443.3,221.7 446.7,219.2 450,215.8 450.8,212.5 455,210.8 459.2,209.2 462.5,207.5 461.7,204.2 465,203 469.2,202.5 470.8,205 474.2,205.3 474.2,205.3 476.7,209.2 478.3,214.2 477.5,219.2 478.3,224.2 479.2,229.2 478.3,234.2 480,238.3 482.5,240 482.5,245 482.5,246.7 485,250 486.7,254.2 485,258.3 481.7,257.5 483.3,261.7 486.7,263.3 490,264.2 493.3,260.8 495.8,262.5 495,266.7 491.7,269.2 487.5,270.8 485,273.3 485.8,277.5 484.2,281.7 485,285.8 485.8,290 488.3,296.3 488.3,296.3 483.3,295 478.3,294.2 477.5,291.7 474.2,287.5 471.7,284.2 470,280.8 468.3,276.7 465.8,274.2 461.7,271.7 460,267.5 456.7,265 452.5,266.7 450,270.8 446.7,273 442.5,270.8 438.3,270 433.3,271.3 428.3,271.7 424.2,270.8 424.2,270.8 425,266.7 424.2,261.7 421.7,258.3 420,255.8 420,255.8 423.3,253.3 425.8,250 427.5,245.8 430,242.5 433.3,240.8 436.7,239.2 440,237.5 442.5,235 441.7,231.7 439.7,227.5Z"/>
<path fill="#b22222" d="M474.2,205.3 477.5,203.3 480.8,201.7 483.3,199.2 485.8,196.3 487.5,199.2 489.2,200.8 486.7,204.2 484.2,207.5 482.5,210.8 486.7,209.2 490.8,206.7 494.2,205.8 495,209.2 496.7,213.3 498.3,217.5 498.7,220.8 497,224.2 496.7,227.5 499.2,223.3 501.3,219.7 503,218.7 503,218.7 501.3,215.8 502.5,212.5 505,210.3 505.8,214.2 507.5,213 510,210.8 512.5,209.2 516.7,208.7 520.8,209.7 524.2,211.3 524.2,211.3 525.8,215.8 527.5,218.7 530,223 532.5,226.7 534.7,230.3 536.7,228.3 536.7,228.3 538.3,231.7 539.2,235.8 538.7,240 538.7,243.7 538.7,243.7 535.8,247.5 533.3,250 534.2,255 533.3,260 533,265 534.2,269.2 532.5,271.7 530,273.3 529.7,277.5 528.3,280.8 528.3,280.8 534,260 533.4,263.8 534.6,267.6 533.4,270.7 530.2,272 529.6,275.7 530.9,278.9 530.2,282 527.1,283.3 523.3,283.9 520.2,282 517,280.8 513.9,282 512.6,285.2 509.4,285.8 508.8,288.3 506.3,287.1 502.5,287.1 500,287.7 492.5,298.3 492.5,298.3 490.8,298.7 488.3,296.3 488.3,296.3 485.8,290 485,285.8 484.2,281.7 485.8,277.5 485,273.3 487.5,270.8 491.7,269.2 495,266.7 495.8,262.5 493.3,260.8 490,264.2 486.7,263.3 483.3,261.7 481.7,257.5 485,258.3 486.7,254.2 485,250 482.5,246.7 482.5,245 482.5,240 480,238.3 478.3,234.2 479.2,229.2 478.3,224.2 477.5,219.2 478.3,214.2 476.7,209.2 474.2,205.3Z"/>
<use href="#p22" fill="#ff0000"/><use href="#hl" clip-path="url(#c22)"/>
<path fill="#b22222" d="M524.2,211.3 526.7,208.3 527.5,204.2 530,201.7 529,201.2 536.5,198.8 544,197.5 550.2,194.5 552.8,196.2 551.5,202.5 547.8,206.2 546.5,211.2 550.2,214.5 556.5,216.2 556.7,217.2 556.7,217.2 557.5,220.8 555,223.3 550,225 547.5,226.7 549.2,230 551.7,233.3 553.3,237.5 555,240.8 554.2,243.7 554.2,243.7 550,243 546.7,241.7 543.3,240 540.8,241.7 538.7,243.7 538.7,243.7 538.7,240 539.2,235.8 538.3,231.7 536.7,228.3 536.7,228.3 534.7,230.3 532.5,226.7 530,223 527.5,218.7 525.8,215.8 524.2,211.3Z"/>
<use href="#p23" fill="#b22222"/><use href="#hl" clip-path="url(#c23)"/>
<use href="#p24" fill="#8b0000"/><use href="#hl" clip-path="url(#c24)"/>
<path fill="#ff0000" d="M345,404.2 346.3,405.8 348.8,410 351.3,415 353,420 353.3,421.7 352,428.3 351.3,433.3 352,437.5 354.2,440.8 356.7,442.5 357.5,440.8 355.8,437.5 354.2,433.3 354.2,428.3 355,423.3 355.8,418.3 357.5,419.2 360,422.5 365,420.8 370,419.2 372.5,421.7 375,420 377.5,422.5 380,425 380.8,420 380,416.7 379.3,410.8 379.3,410.8 381.7,407.5 384.2,405 386.7,402.5 390,400 392.5,396.7 391.7,394.2 393.3,390 392.5,385 388.3,384.2 384.2,385.8 383.3,380.8 384.2,375.8 386.7,371.7 386.7,371.7 385,368.3 383.3,365 381.7,362.5 377.5,361.7 374.2,364.2 371.7,367.5 368.3,366.3 368.3,366.3 365,369.2 360.8,371.3 359.7,375 357.5,378.3 355,379.3 355,379.3 355.3,383.3 353.3,386.7 352.5,390 351.7,393.3 350.8,396.3 350.8,396.3 347.5,397 345.8,400 345,404.2Z"/>
<use href="#p25" fill="#00ff00"/><use href="#hl" clip-path="url(#c25)"/>
<path fill="#ff0000" d="M380.8,255.8 380,254.2 376.7,258.3 373.3,263.3 371.7,268.3 372.5,273.3 374.2,277.5 373.3,282.5 375.8,285.8 373.3,289.2 370,289.7 370,289.7 374.2,290 378.3,290.8 380.8,294.2 382.5,298.3 385.8,300 389.2,298.3 393.3,299.2 397.5,300.8 400.8,303.3 405,305 409.2,305.8 411.7,308.3 413.3,312.5 413.7,316.7 415.8,313.3 420,312.5 424.2,312.5 427.5,310 430,313.3 429.2,318.3 428.3,322.5 427.5,326.7 429.2,329.7 429.2,329.7 433.3,329.7 436.7,327.5 440,325 442.5,323.3 444.2,320 446.7,317.5 449.2,314.2 450,310.8 448.3,307.5 449.2,305.8 453.3,305 457.5,304.2 461.7,303.3 465,303.7 466.7,306.7 469.2,309.2 470.8,313.3 472.5,315 475.8,314.2 479.2,312.5 483.3,312.5 483.3,312.5 485,310 488.3,307.5 490.8,304.2 492.5,298.3 492.5,298.3 490.8,298.7 488.3,296.3 488.3,296.3 483.3,295 478.3,294.2 477.5,291.7 474.2,287.5 471.7,284.2 470,280.8 468.3,276.7 465.8,274.2 461.7,271.7 460,267.5 456.7,265 452.5,266.7 450,270.8 446.7,273 442.5,270.8 438.3,270 433.3,271.3 428.3,271.7 424.2,270.8 424.2,270.8 420,270.8 415,271.7 415.8,275.8 413.3,278.3 410,273.3 406.7,268.3 405,263.3 400,265.8 395.8,270 392.5,266.7 388.3,265 386.7,260.8 385,256.7 380.8,255.8Z"/>
<use href="#p26" fill="#ff8c00"/><use href="#hl" clip-path="url(#c26)"/>
<use href="#p27" fill="#b22222"/><use href="#hl" clip-path="url(#c27)"/>
<path fill="#b22222" d="M530.9,282.4 533.4,281.4 536.5,280.8 536.8,283.3 536.5,285.8 539.1,287.1 542.2,286.5 545.4,285.2 547.6,283.9 548.5,286.5 547.2,288.3 546,290.2 547.2,292.1 550.4,293 553.5,294 554.8,297.2 555.4,300.3 554.2,303.5 553.5,306 556.7,305.4 559.8,304.1 561.7,306.6 564.3,307.2 566.8,306 569.3,304.1 571.8,301.6 573.1,297.8 574.3,294.6 575.6,296.5 576.2,300.3 575.6,303.5 576.9,306 578.1,308.5 580.6,310.4 577.5,310 580.8,310.8 585,312.5 588.3,311.7 593.3,311.7 596.7,314.2 595,317.5 594.2,320.8 591.7,321.7 587.5,320 585.8,320.8 585,324.2 582.5,327.5 580.8,331.7 582.5,334.2 585,336.7 587.5,340 586.7,345.8 585.8,350 583.3,353.3 580,355.8 576.7,355 573.3,352.5 570,354.2 566.7,353.3 563.3,357.5 560,360 559.2,357.5 555.8,355 554.2,350 552.5,345.8 550.8,341.7 547.5,338.3 545.8,334.2 543.3,331.7 540,330 536.7,328.3 535,324.2 534.2,320 536.7,316.7 538.3,312.5 539.2,308.3 540.8,305 539.2,302.5 539.1,312.9 540.3,310.4 539.1,307.9 540.3,305.4 544.1,304.7 544.7,303.5 541.6,302.8 539.1,299.7 537.8,296.5 536.5,293.4 535.9,290.2 534,287.1 532.1,285.2Z"/>
<path fill="#b22222" d="M618.3,247 620.8,244.2 624.2,242.5 627.5,240.8 628.3,237.5 630.8,235.3 635,235.8 638.3,236.7 641.7,239.2 645.8,240.8 650,242.5 654.2,243.7 655.8,245 655,250 655.3,255 654.2,260 655,265 655.8,270 656.7,275 657.5,280 657.5,280 657.5,282.5 655,285.8 652.5,289.2 650.8,292.5 650,295 650,295 647.5,295.8 643.3,296.7 638.3,297.5 634.2,295.8 630.8,293.3 627.5,296.7 623.3,295.8 619.2,295.8 615,293.3 610,291.7 606.7,293.3 606.7,293.3 608.3,288.3 609.2,284.2 609.7,290 609.2,285.3 605.8,282 601.7,278.7 599.2,275 599.2,275 602.5,276.7 605.8,278.3 609.2,280 611.7,281.7 615,282.5 616.7,280 617.5,275.8 620.8,274.2 624.2,273.3 625,270.8 628.3,270 631.7,268.3 635,266.7 634.2,262.5 631.7,258.3 628.3,255 624.2,251.7 620.8,250 618.3,247Z"/>
<path fill="#b22222" d="M606.7,293.3 610,291.7 615,293.3 619.2,295.8 623.3,295.8 627.5,296.7 630.8,293.3 634.2,295.8 638.3,297.5 643.3,296.7 647.5,295.8 650,295 650,295 650,300 650.8,305 651.7,310 651.3,315 652.5,319.2 653.3,324.2 654.2,330 655.8,334.2 657.5,337.5 656.7,341.7 656.3,345.8 657.5,350 655.8,352.5 652.5,353.3 648.3,353.3 644.2,354.2 641.7,356.7 638.3,358.3 637.5,362.5 636.7,366.7 635,370 634.2,371.7 632.5,375 631.7,378.3 628.3,380 627.5,380.8 627.5,380.8 623.3,377.5 620,376.7 617.5,375 617,370.8 616.7,370 619.2,366.7 621.7,365 618.3,362.5 615,360 614.2,356.7 611.7,353.3 608.3,351.7 604.2,352.5 600.8,350 598.3,346.7 597.5,341.7 600,340 603.3,340.8 605.8,342.5 610,344.2 613.3,342.5 611.7,340.8 607.5,339.2 603.3,337.5 600,335 599.2,330.8 599.2,328.3 600,324.2 600.8,320 603.3,317.5 606.7,316.7 609.2,314.2 612.5,312.5 613.3,308.3 615.8,305 619.2,303.3 622.5,300.8 620,299.2 616.7,296.7 611.7,295 606.7,293.3Z"/>
<use href="#p28" fill="#ff0000"/><use href="#hl" clip-path="url(#c28)"/>
<path fill="#b22222" d="M433,437.5 429.2,436.7 426.7,438.7 423.3,439.7 420,437.5 416.7,441.3 411.7,440.8 406.7,440 401.7,441.7 397.5,440.8 394.2,439.2 393.3,435.8 390,432.5 385.8,430 383.3,426.7 380.8,423.3 379.7,416.7 379.3,410.8 379.3,410.8 381.7,407.5 384.2,405 386.7,402.5 390,400 392.5,396.7 391.7,394.2 393.3,390 392.5,385 388.3,384.2 384.2,385.8 383.3,380.8 384.2,375.8 386.7,371.7 386.7,371.7 389.2,373 393.3,371.7 396.7,372.5 400,371.7 403.3,370 406.7,369.2 409.2,373.3 410.8,377.5 415,378.3 419.2,377.5 421.7,374.2 422.5,378.3 424.2,382.5 426.7,380.8 430.8,379.2 435,378.3 439.2,379.2 440.8,377.5 440.8,377.5 440,381.7 440.8,385.8 441.7,390 442.5,394.2 439.2,397.5 438.3,402.5 440.8,405 445,406.7 443.3,410 438.3,410.8 435,413.3 434.2,417.5 437.5,400 438.3,404.2 436.7,410.8 435,414.2 432.5,417.5 433.3,421.7 431.7,425.8 432.5,430 431.7,434.2 429.2,436.7 433,437.5Z"/>
<use href="#p29" fill="#b22222"/><use href="#hl" clip-path="url(#c29)"/>
<path fill="#ff0000" d="M485.8,389.2 489.2,388.3 490.8,391.7 493.3,392.5 494.2,396.7 497.5,398.3 499.2,394.2 500,390.8 504.2,389.2 506.7,385.8 509.2,382.5 511.7,380 513.3,377.5 517.5,375.8 521.7,375 525.8,373.3 530,371.7 532.5,373.3 532.5,377.5 534.2,380.8 535.8,385 535.8,390 538.3,393.3 541.7,394.2 540,398.3 539.2,402.5 540,405.8 544.2,405.8 548.3,407.5 552.5,407.5 556.7,407.8 556.7,407.8 555.8,411.7 554.2,415 553.3,419.2 554.2,423.3 555,425.8 551.7,427.5 550.8,431.7 548.3,433.3 545,435 543.3,438.3 541.7,440 543.3,440 539.2,442.5 535,445 530,446.7 524.2,445.8 520.8,443.3 519.2,439.2 515.8,436.7 512.5,434.2 508.3,431.7 503.3,430.8 501.3,430 500,432.5 499.2,436.7 497.5,440 494.2,440.8 494.2,440.8 495.8,437.5 496.7,433.3 497,429.2 495.8,429.2 491.7,427.5 487.5,426.7 483.3,428 479.2,427.5 475,426.7 474.2,423.3 475.8,419.2 477.5,415.8 480,412.5 480.8,408.3 480,404.2 480.8,400 481.7,395.8 485,393.3 485.8,389.2Z"/>
<path fill="#ff0000" d="M451,444.1 447.7,445.6 445.6,444.3 443.9,443.9 442.7,444.3 443.1,446.8 443.5,449.3 442.7,451.8 443.9,453.9 445.6,454.8 447.7,453.5 449.2,451.8 449.2,451.8 449.8,453.9 448.9,456.4 448.1,458.5 446.8,459.5 448.5,460.3 450.2,461 447.8,461.4 445.2,461.8 442.7,463.1 440.2,464.8 437.7,466.4 435.2,467.7 433.1,468.5 435.2,469.8 437.7,470.6 438.9,472.7 439.3,475.2 439.8,477.7 440.2,481 440,478.3 439.2,482.5 436.7,484.2 433.7,485.3 436.7,487.5 440.8,490 445,491.7 447.5,493.3 450.8,493 451.7,490 455.8,490.8 460.8,492 465,491.7 467.5,489.2 468.3,485.8 464.2,485 460,483.3 460,483.3 460.2,481 461.4,479.3 463.5,478.1 465.2,476.4 466.8,474.8 466.8,472.7 468.5,471 469.8,469.3 469.8,466.8 471,464.8 473.1,463.1 473.5,461 473.1,458.1 474.3,456 475.6,453.9 476.4,451.8 476,449.3 476.4,446.8 475.2,444.3 471.8,442.3 471.8,442.3 470.2,442.5 466.8,441.7 462.7,441.8 459.3,442.2 457.7,443.3 454.3,444.3 451,444.1Z"/>
<use href="#p30" fill="#ffd700"/><use href="#hl" clip-path="url(#c30)"/>
<use href="#p31" fill="#ff8c00"/><use href="#hl" clip-path="url(#c31)"/>
<g fill="none" stroke="#939393" stroke-width="1.0" stroke-linejoin="round">
<path d="M162.2,194 163,197.2 163.5,201 162.9,205 164.8,207.3 167.3,209.2 169.8,208.5 172.3,209.8 174.8,212.3 176.7,215.5 178.9,218.4 180.5,219.6"/>
<path d="M180.5,219.6 174.8,221.1 169.8,222.4 166,223.7 162.9,226.2 160.3,227.4 159.7,231.2 160.3,235 160.7,237.5 160.7,242.8"/>
<path d="M180.5,219.6 183.7,218 187.4,220.5 191.2,219.9 195,220.5 198.8,220.5 201,221.1"/>
<path d="M190.2,182.6 189.3,185.9 190,189.6 190.6,192.8 191.8,195.3 195,197.2 197.5,200.3 199.4,202.9 200,206 200.7,209.8 201.3,213.6 201,221.1"/>
<path d="M201,221.1 201.5,214.2 203.8,215.5 206.3,218 208.6,218.4 209.1,215.5 209.5,212.3 211.4,211.1 213.9,208.5 217.7,206.6 218.9,205.4"/>
<path d="M217.7,198.7 216.7,195.9 215.4,192.2 214.6,188.4 214.1,184.6"/>
<path d="M218.9,205.4 218.4,202.2 217.7,198.7"/>
<path d="M259.9,186.7 259.1,190.2 259.8,194 260.4,197.8 261.7,200.1"/>
<path d="M261.7,200.1 260.4,202.8 258.5,206 256.6,209.1 254.7,212.9 253.5,216.7 252.8,220.5 253.5,224.3 254.7,227.6 256.3,229.1 258.2,232.6 258.9,235.8 259.2,237.9"/>
<path d="M217.7,198.7 220.7,201.6 223.9,203.1 227,201.3 228.6,197.2 230.2,193.4 233.3,191.5 235.8,190.2 239,190.9 242.1,193 244.3,194.3 246.5,193.4 249.1,195.9 252.8,197.2 256.9,199.3 261.7,200.1"/>
<path d="M218.9,205.4 216.9,210.4 219.4,214.2 222.6,215.4 223.9,218.6 226.4,217.3 230.2,218 233.3,218.6 234.6,221.7 235.2,225.5 235.1,227.7 233.9,232.1 234.7,237.1 236.6,242.2 239.1,245.3 240.7,247.2"/>
<path d="M201,221.1 200.3,222 200.1,227 201.4,230.8 201.1,234.6 201.1,238.4 201.6,242.2"/>
<path d="M211.4,257 215.2,257.9 220.3,257.5 224,256 226.6,254.1 229.1,253.5 231.6,255.4 234.1,256.6 236.6,257.3"/>
<path d="M236.6,257.3 237.9,253.5 239.1,249.7 240.7,247.2"/>
<path d="M200.7,275.9 202.6,272.4 205.1,270.5 207.7,269.2 210.2,268 212.1,266.7 215.2,268 216.5,268 219,266.7 221.5,266.1 224.7,265.5 227.2,268 230.3,269.9 233.1,270.5 235.6,266.3"/>
<path d="M236.6,257.3 236.4,261.1 236,264.8 235.6,266.3"/>
<path d="M240.7,247.2 245.6,246.5 249.4,246.7 252.6,247.1 254.5,244 257,240.8 259.2,237.9"/>
<path d="M259.2,237.9 262.6,237 265.8,236.2 269.6,234.9 272.7,234.1 275.9,233.9 279,232.6 282.2,231.4 286,231.1 289.7,230.7 292.9,229.5 296.7,227.6 299.2,227 301.7,228.2 304.2,227.6"/>
<path d="M235.6,266.3 238.7,266.9 240.6,267.3 243.1,265.4 245.6,263.5 248.2,262.6 251.9,261.6 255.1,261 258.2,259.7 260.8,260.1 263.9,259.7"/>
<path d="M263.9,259.7 265.8,258.5 268.3,256.3 271.5,255.6 273.4,256.6 275.9,257.8 278.4,259.7 280.9,261 283.4,261.6 284.7,263.5 287.2,266 289.7,265.4"/>
<path d="M289.7,265.4 290.4,262.2 289.7,259.1 287.2,257.2 284.7,255.3 284.1,252.2 286,250.3 287.2,247.1 288.5,245.2 291,245.9 292.9,247.1 296,245.9 299.2,246.5 302.3,245.6"/>
<path d="M180,296.3 181.7,299.2 183.3,302.5 185,305.8 187.5,307.5"/>
<path d="M187.5,307.5 186.7,311.7 185,315 180,315.8 176.7,317.5 175.8,317.5"/>
<path d="M187.5,307.5 190.8,306.7 193.3,310.8 198.3,311.7 200.8,310 203.3,310.8 205.8,312.5 206.7,315"/>
<path d="M206.7,315 206.3,311.7 207,308.3 208.3,305 207.7,302"/>
<path d="M207.7,302 205.8,298.7 203.3,295"/>
<path d="M188.7,340 192.5,338.8 196.3,340 198,343.7 202,342 204.7,340 205.8,336.7 209.2,335 212,333.7"/>
<path d="M206.7,315 207,316.7 208.3,320.8 209.7,325 210.8,329.2 212,333.7"/>
<path d="M212,333.7 213,335.8 214.2,338.3 215.8,341.7"/>
<path d="M207.7,302 210,298.3 213.3,295 218.3,294.2 223.3,293.3 228.3,291.7 233.3,289.2 236.7,288.3 240.8,290 245,290.8 250,291.3 253,290.8"/>
<path d="M253,290.8 253.8,295 256.3,298.3 258.8,301.7 259.7,305.8"/>
<path d="M259.7,305.8 255.5,309.2 251.3,311.7 247.2,313.7 245.5,318.3 244.7,323.3"/>
<path d="M244.7,323.3 240,325 236.7,328.3 234.2,330.8 230,333.7 226.7,333.3 224.2,330.8 222.5,333.7 220,335.8 217.5,339.2 215.8,341.7"/>
<path d="M244.7,323.3 243,328.3 242.2,332.5 245.5,334.2 248.8,336.7 246.3,340 245.5,343.3"/>
<path d="M263.9,259.7 263.3,264.1 263.9,267.9 262.6,271.7 261.4,275.5 262.2,275 260.5,280 258,284.2 254.7,286.7 253,290.8"/>
<path d="M259.7,305.8 263,310 266.3,311.7 269.7,309.2"/>
<path d="M269.7,309.2 273.8,306.7 279.7,305 280.5,304.2"/>
<path d="M289.7,265.4 287.2,267.9 286,271.1 286.6,274.2 284.1,276.7 284.7,279.3 287.2,272.5 283.8,277.5 289.7,280 294.7,284.2 296.3,288.3 296,290.8"/>
<path d="M324.7,340 329.7,338.3 334.7,334.2 338,331.7 344.7,333.3 348,334.2 351.3,330.8 357.5,326.7 358.3,325.8"/>
<path d="M269.7,309.2 268,315 267.2,320 266.3,324.2 270.5,325.8 273.8,327.5 273,333.3 272.7,340 273.8,346.7 275.5,351.7 274.7,355.8 273,357.5 272.2,360.8 273,365"/>
<path d="M336.7,375 340,373 345,372 348.3,373.7 349.2,376.7 352.5,378 355,379.3"/>
<path d="M355,379.3 355.3,383.3 353.3,386.7 352.5,390 351.7,393.3 350.8,396.3"/>
<path d="M355,379.3 357.5,378.3 359.7,375 360.8,371.3 365,369.2 368.3,366.3"/>
<path d="M368.3,366.3 368.3,362.5 367.5,359.2 365,358.3 363.3,355.8 366.7,355 367.5,350.8 366.7,346.7 364.2,343.3 361.7,340 360,336.7 360.8,334.2"/>
<path d="M360.8,334.2 360,330 358.3,325.8"/>
<path d="M360.8,334.2 364.2,330.8 369.2,330.3 373.3,331.3 377.5,328.3 381.7,330 384.2,333.3 388.3,334.2 392.5,335 395.8,330.8 399.2,329.2 403.3,330 406.7,329.2 409.2,332.5 406.7,335.8 405.8,340 407.5,342.5 411.7,343.3 415,345 415.8,349.2 419.2,351.7 423.3,350 426.7,350.8 429.2,354.2"/>
<path d="M429.2,354.2 430.8,356.7 435,357.5 431.7,359.2 430.8,362.5 433.3,365.8 436.7,367.5 439.2,370.8 438.3,374.2 440.8,377.5"/>
<path d="M440.8,377.5 439.2,379.2 435,378.3 430.8,379.2 426.7,380.8 424.2,382.5 422.5,378.3 421.7,374.2 419.2,377.5 415,378.3 410.8,377.5 409.2,373.3 406.7,369.2 403.3,370 400,371.7 396.7,372.5 393.3,371.7 389.2,373 386.7,371.7"/>
<path d="M386.7,371.7 385,368.3 383.3,365 381.7,362.5 377.5,361.7 374.2,364.2 371.7,367.5 368.3,366.3"/>
<path d="M386.7,371.7 384.2,375.8 383.3,380.8 384.2,385.8 388.3,384.2 392.5,385 393.3,390 391.7,394.2 392.5,396.7 390,400 386.7,402.5 384.2,405 381.7,407.5 379.3,410.8"/>
<path d="M336.7,375 335.8,375.8 334.2,380 333.3,384.2 336.7,388.3 340,391.7 345,395 346.7,395.8 350.8,396.3"/>
<path d="M380.8,160 378.3,167.5 376.7,170.8 374.2,174.2 370,175 366.7,175 364.2,176.7 361.7,180 359.2,184.2 357.5,187.5 358.3,191.7 356.7,193.3 353.3,190.8 350.8,189.2 347.5,191.7 345,195 343.3,199.2 340,200.8 337.5,201.7 335.8,205.8 334.2,210 333.7,215 333.3,210 332.5,215 330.8,219.2 326.7,222.5 322.5,225 317.5,226.7 312.5,228 308.3,229.2 304.2,227.6"/>
<path d="M399.2,182.5 396.7,183.3 394.2,188.3 390,190 386.7,188.3 382.5,187.5 378.3,190 375,193.3 371.7,196.7 370,200 371.7,204.2 375,208.3 378.3,211.7 380.8,215 381.7,220 380,224.2 375.8,225.8 372.5,227.5 372,230.8 373.3,234.2 375.8,236.7 379.2,238 383.3,239.5"/>
<path d="M407.5,192.2 405.8,195.8 402.5,198.3 400.8,202.5 401.7,207.5 405,210.8 408.3,211.7 407.5,216.7 406.7,221.7 407.5,226.7 405,230 401.7,233.3 399.2,235.8 396.7,240 395,243.7 390.8,242.5 386.7,240 383.3,239.5"/>
<path d="M439.7,227.5 441.7,231.7 442.5,235 440,237.5 436.7,239.2 433.3,240.8 430,242.5 427.5,245.8 425.8,250 423.3,253.3 420,255.8 420,255.8 421.7,258.3 424.2,261.7 425,266.7 424.2,270.8"/>
<path d="M474.2,205.3 476.7,209.2 478.3,214.2 477.5,219.2 478.3,224.2 479.2,229.2 478.3,234.2 480,238.3 482.5,240 482.5,245 482.5,246.7 485,250 486.7,254.2 485,258.3 481.7,257.5 483.3,261.7 486.7,263.3 490,264.2 493.3,260.8 495.8,262.5 495,266.7 491.7,269.2 487.5,270.8 485,273.3 485.8,277.5 484.2,281.7 485,285.8 485.8,290 488.3,296.3"/>
<path d="M311.4,262.4 313.3,262.5 315,258.3 319.2,256.3 324.2,255.8 328.3,256.7 333.3,258.3 338.3,259.2 340.8,257.5 340,253.3 343.3,252.5 347.5,251.7 350,249.2 355,250 359.2,250.8 363.3,253.3 366.7,255.8 369.2,255 370,250.8 369.2,246.7 370,244.2 374.2,244.7 378.3,244.2 381.7,243.3 382.8,241.7"/>
<path d="M382.8,241.7 382.5,245 380.8,249.2 379.7,252.5 380.8,255.8"/>
<path d="M380.8,255.8 385,256.7 386.7,260.8 388.3,265 392.5,266.7 395.8,270 400,265.8 405,263.3 406.7,268.3 410,273.3 413.3,278.3 415.8,275.8 415,271.7 420,270.8 424.2,270.8"/>
<path d="M424.2,270.8 428.3,271.7 433.3,271.3 438.3,270 442.5,270.8 446.7,273 450,270.8 452.5,266.7 456.7,265 460,267.5 461.7,271.7 465.8,274.2 468.3,276.7 470,280.8 471.7,284.2 474.2,287.5 477.5,291.7 478.3,294.2 483.3,295 488.3,296.3"/>
<path d="M488.3,296.3 490.8,298.7 492.5,298.3"/>
<path d="M380.8,255.8 380,254.2 376.7,258.3 373.3,263.3 371.7,268.3 372.5,273.3 374.2,277.5 373.3,282.5 375.8,285.8 373.3,289.2 370,289.7"/>
<path d="M429.2,329.7 429.2,335 428.3,340"/>
<path d="M503,218.7 503.3,222.5 505.8,227.5 509.2,230.3 512.5,230 515,227.5 518.3,225.8 520.8,227.5 523.3,226.7 525.8,224.2 526.7,217.5"/>
<path d="M618.3,247 620.8,250 624.2,251.7 628.3,255 631.7,258.3 634.2,262.5 635,266.7 631.7,268.3 628.3,270 625,270.8 624.2,273.3 620.8,274.2 617.5,275.8 616.7,280 615,282.5 611.7,281.7 609.2,280 605.8,278.3 602.5,276.7 599.2,275"/>
<path d="M599.2,275 595.8,273.3 592.5,271.7 590,270 586.7,271.7 582.5,272.5 578.3,271.7 575,270.8 573.7,270.8"/>
<path d="M573.7,270.8 574.2,268.3 575.8,265 575,260.8 576.7,257.5 578.3,253.3 579.2,250"/>
<path d="M579.2,250 580,250 583.3,248.3 586.7,246.7 589.2,245 593.3,245.8 598,245"/>
<path d="M579.2,250 575,249.2 570.8,250 566.7,249.2 565,245 562.5,243.3 558.3,244.2 554.2,243.7"/>
<path d="M556.7,217.2 557.5,220.8 555,223.3 550,225 547.5,226.7 549.2,230 551.7,233.3 553.3,237.5 555,240.8 554.2,243.7"/>
<path d="M554.2,243.7 550,243 546.7,241.7 543.3,240 540.8,241.7 538.7,243.7"/>
<path d="M353.7,298.7 352.5,303.3 353.3,308.3 356.7,310.8 359.2,313.3 360,317.5 357.5,320.8 357.5,324.2 358.3,325.8"/>
<path d="M606.7,293.3 610,291.7 615,293.3 619.2,295.8 623.3,295.8 627.5,296.7 630.8,293.3 634.2,295.8 638.3,297.5 643.3,296.7 647.5,295.8 650,295"/>
<path d="M599.2,275 601.7,278.7 605.8,282 609.2,285.3 609.7,290 609.2,284.2 608.3,288.3 606.7,293.3"/>
<path d="M606.7,293.3 611.7,295 616.7,296.7 620,299.2 622.5,300.8 619.2,303.3 615.8,305 613.3,308.3 612.5,312.5 609.2,314.2 606.7,316.7 603.3,317.5 600.8,320 600,324.2 599.2,328.3 599.2,330.8 600,335 603.3,337.5 607.5,339.2 611.7,340.8 613.3,342.5 610,344.2 605.8,342.5 603.3,340.8 600,340 597.5,341.7 598.3,346.7 600.8,350 604.2,352.5 608.3,351.7 611.7,353.3 614.2,356.7 615,360 618.3,362.5 621.7,365 619.2,366.7 616.7,370 617,370.8 617.5,375 620,376.7 623.3,377.5 627.5,380.8"/>
<path d="M440.8,377.5 440,381.7 440.8,385.8 441.7,390 442.5,394.2 439.2,397.5 438.3,402.5 440.8,405 445,406.7 443.3,410 438.3,410.8 435,413.3 434.2,417.5 437.5,400 438.3,404.2 436.7,410.8 435,414.2 432.5,417.5 433.3,421.7 431.7,425.8 432.5,430 431.7,434.2 429.2,436.7 433,437.5"/>
<path d="M440.8,385.8 445,387.5 450,388.3 455,390 460,391.7 465,393.3 470,394.2 475,393.3 480,393.3 480.8,397.5 480,402.5 480.8,407.5 480,411.7 477.5,415 475.8,419.2 474.2,422.5 470,421.7 465.8,420 461.7,418.3 457.5,417.5 453.3,416.7 450,415 446.7,415.8 443.3,418.3 440,420.8 436.7,421.7 434.2,417.5"/>
<path d="M485.8,389.2 489.2,388.3 490.8,391.7 493.3,392.5 494.2,396.7 497.5,398.3 499.2,394.2 500,390.8 504.2,389.2 506.7,385.8 509.2,382.5 511.7,380 513.3,377.5 517.5,375.8 521.7,375 525.8,373.3 530,371.7 532.5,373.3 532.5,377.5 534.2,380.8 535.8,385 535.8,390 538.3,393.3 541.7,394.2 540,398.3 539.2,402.5 540,405.8 544.2,405.8 548.3,407.5 552.5,407.5 556.7,407.8"/>
<path d="M485.8,389.2 485,393.3 481.7,395.8 480.8,400 480,404.2 480.8,408.3 480,412.5 477.5,415.8 475.8,419.2 474.2,423.3 475,426.7 479.2,427.5 483.3,428 487.5,426.7 491.7,427.5 495.8,429.2 497,429.2 496.7,433.3 495.8,437.5 494.2,440.8"/>
<path d="M530.9,282.4 532.1,285.2 534,287.1 535.9,290.2 536.5,293.4 534.6,295.9 531.5,297.2 528.3,298.4 525.8,300.3 524.6,302.8 522.7,304.7 520.2,306.6 517.6,308.5 515.1,309.8 512.6,310.4 510.1,311.7 508.2,314.2 507.6,316.7 508.8,319.8 510,320 510.8,323.3 508.3,325.8 504.2,325 500,323.7 496.7,324.7 494.2,324.2"/>
<path d="M530.9,282.4 533.4,281.4 536.5,280.8 536.8,283.3 536.5,285.8 539.1,287.1 542.2,286.5 545.4,285.2 547.6,283.9 548.5,286.5 547.2,288.3 546,290.2 547.2,292.1 550.4,293 553.5,294 554.8,297.2 555.4,300.3 554.2,303.5 553.5,306 556.7,305.4 559.8,304.1 561.7,306.6 564.3,307.2 566.8,306 569.3,304.1 571.8,301.6 573.1,297.8 574.3,294.6 575.6,296.5 576.2,300.3 575.6,303.5 576.9,306 578.1,308.5 580.6,310.4 577.5,310 580.8,310.8 585,312.5 588.3,311.7 593.3,311.7 596.7,314.2 595,317.5 594.2,320.8 591.7,321.7 587.5,320 585.8,320.8 585,324.2 582.5,327.5 580.8,331.7 582.5,334.2 585,336.7 587.5,340 586.7,345.8 585.8,350 583.3,353.3 580,355.8 576.7,355 573.3,352.5 570,354.2 566.7,353.3 563.3,357.5 560,360 559.2,357.5 555.8,355 554.2,350 552.5,345.8 550.8,341.7 547.5,338.3 545.8,334.2 543.3,331.7 540,330 536.7,328.3 535,324.2 534.2,320 536.7,316.7 538.3,312.5 539.2,308.3 540.8,305 539.2,302.5 539.1,312.9 540.3,310.4 539.1,307.9 540.3,305.4 544.1,304.7 544.7,303.5 541.6,302.8 539.1,299.7 537.8,296.5 536.5,293.4 535.9,290.2 534,287.1 532.1,285.2"/>
<path d="M587.5,320 590.8,321.7 593.3,325 595.8,328.3 599.2,330.8 600,335 603.3,337.5 607.5,339.2 611.7,340.8 613.3,342.5 610,344.2 605.8,342.5 603.3,340.8 600,340 597.5,341.7 593.3,340.8 590,341.7 587.5,340 585,336.7 582.5,334.2 580.8,331.7 582.5,327.5 585,324.2 585.8,320.8"/>
<path d="M508.3,325.8 513.3,328.3 518.3,330 523.3,329.2 527.5,327.5 530.8,330 528.3,331.7 531.7,332.5 536.7,328.3"/>
<path d="M505.8,355 510,355 515,354.2 520,353.3 523.3,351.7 524.2,347.5 523.3,343.3 528.3,340.8 533.3,339.2 538.3,340 543.3,337.5 545.8,334.2"/>
<path d="M430.8,362.5 435,358.3 440,365 445.8,363.3 450,362.5 453.3,367.5 456.7,370.8 460,368.3 465,367.5 469.2,365 471.7,360.8 473.3,356.7 477.5,354.2 483.3,353.3 488.3,352.5 490,348.3 489.2,343.3 490,340"/>
<path d="M440,366.7 445,363.3 450,362.5 451.7,366.7 455,370.8 458.3,371.7 461.7,368.3 466.7,367.5 470.8,365.8 473.3,361.7 475.8,357.5 479.2,354.2 483.3,353.3 488.3,352.5 490,350"/>
<path d="M568,362.5 563.3,365 558.3,365.8 553.3,366.7 550,368.3 549.2,372.5 551.7,375 553.3,378.3 552.5,382.5 550,385 548.3,389.2 545.8,392.5 541.7,394.2"/>
<path d="M563.3,360 561.7,364.2 556.7,365.8 552.5,366.7 549.2,368.3 550,372.5 552.5,375 551.7,379.2 553.3,382.5 550.8,385.8 548.3,388.3 547.5,391.7 545,394.2 541.7,395 540,395.8"/>
<path d="M592,385.3 590,381.7 588.3,377.5 590,375 593.3,372.5 592.5,368.3 590,366.7 586.7,367.5 584.2,365 581.7,361.7 580,358.3 579.2,354.2 581.7,351.7 585,350"/>
<path d="M547.6,283.9 550.4,282.7 553.5,281.4 556.7,282.7 559.2,280.8 561.7,278.9 565.5,278.3 568.7,278.9 570.6,276.4 572.4,273.9 574.3,272 575.6,270.1 573.7,270.8"/>
<path d="M575.8,295.8 580.8,295 585.8,294.2 590.8,291.7 593.3,288.3 595.8,285.8 595.8,280.8"/>
<path d="M560,306.7 565,305.8 570,305 572.5,301.7 574.2,296.7 575.8,295.8 575.8,300 576.7,303.3"/>
<path d="M443.3,407.5 445.8,412.5 449.2,416.7 453.3,418.3 458.3,420 463.3,420.8 468.3,422.5 472.5,423.3 474.2,423.3"/>
<path d="M390,294.2 391.7,291.7 395,293 397.5,296.7 396.7,300"/>
<path d="M451,444.1 454.3,444.3 457.7,443.3 459.3,442.2 462.7,441.8 466.8,441.7 470.2,442.5 471.8,442.3"/>
<path d="M429.2,354.2 430.8,356.7 435,357.5 431.7,359.2 430.8,362.5 433.3,365.8 436.7,367.5 439.2,370.8 438.3,374.2 440.8,377.5"/>
<path d="M440.8,377.5 439.2,379.2 435,378.3 430.8,379.2 426.7,380.8 424.2,382.5 422.5,378.3 421.7,374.2 419.2,377.5 415,378.3 410.8,377.5 409.2,373.3 406.7,369.2 403.3,370 400,371.7 396.7,372.5 393.3,371.7 389.2,373 386.7,371.7"/>
<path d="M556.7,407.8 555.8,411.7 554.2,415 553.3,419.2 554.2,423.3 555,425.8 551.7,427.5 550.8,431.7 548.3,433.3 545,435 543.3,438.3 541.7,440 543.3,440 539.2,442.5 535,445 530,446.7 524.2,445.8 520.8,443.3 519.2,439.2 515.8,436.7 512.5,434.2 508.3,431.7 503.3,430.8 501.3,430 500,432.5 499.2,436.7 497.5,440 494.2,440.8"/>
<path d="M449.2,451.8 449.8,453.9 448.9,456.4 448.1,458.5 446.8,459.5 448.5,460.3 450.2,461 447.8,461.4 445.2,461.8 442.7,463.1 440.2,464.8 437.7,466.4 435.2,467.7 433.1,468.5 435.2,469.8 437.7,470.6 438.9,472.7 439.3,475.2 439.8,477.7 440.2,481 440,478.3 439.2,482.5 436.7,484.2 433.7,485.3 436.7,487.5 440.8,490 445,491.7 447.5,493.3 450.8,493 451.7,490 455.8,490.8 460.8,492 465,491.7 467.5,489.2 468.3,485.8 464.2,485 460,483.3"/>
<path d="M471.8,442.3 475.2,444.3 476.4,446.8 476,449.3 476.4,451.8 475.6,453.9 474.3,456 473.1,458.1 473.5,461 473.1,463.1 471,464.8 469.8,466.8 469.8,469.3 468.5,471 466.8,472.7 466.8,474.8 465.2,476.4 463.5,478.1 461.4,479.3 460.2,481 460,483.3"/>
</g>
<g fill="none" stroke="#000" stroke-width="1.05" stroke-linejoin="round" stroke-linecap="round">
<path stroke-width="1.3" d="M160.7,242.8 155.7,242 150.7,243.3 148.2,241.7 144.8,243.3 140.7,243.8 139.3,240 137.7,235 140,232 138.7,228.3 139.7,224.2 141.5,218.3 145.7,215.3 148,213.7 144.3,213 142.3,210 142.8,205 142.3,201.3 145.7,200 148.2,197 150.7,194.2 154,193.3 157.3,191.3 161,192.5 162.3,192"/>
<path stroke-width="1.3" d="M162.2,194 164.1,192.2 166.6,190.9 168.5,189 169.8,187.1 172.3,184.6 175.5,182.7 178,182.1 179.9,184 182.4,184.6 186.2,184 189.3,182.7 190.2,182.6"/>
<path stroke-width="1.3" d="M190.2,182.6 192.5,181.4 195,179.6 197.5,178.3 200.7,177 204.4,175.5 207.6,176 210.1,178.3 211.4,180.2 210.7,182.1 212.6,184 214.1,184.6"/>
<path stroke-width="1.3" d="M214.1,184.6 212.3,183.9 216.3,182.4 220.7,182.7 222.6,180.8 224.5,178.3 227,176.1 230.8,175.1 235.2,174.9 239.6,175.4 243,176.4 244.8,176.9 245.9,175.1 248.4,173.9 251.6,172 253.5,169.4 256,170.7 257.9,172 258.5,175.1 257.9,178.9 259.1,182.7 259.8,185.2 259.9,186.7"/>
<path stroke-width="1.3" d="M259.9,186.7 261.7,184.6 263.5,182.7 264.4,183.3 265.4,184.6 266.1,187.1 268,189.6 270.5,191.5 271.5,194 271,196.5 272.4,194.6 272.7,191.5 273,187.1 272.6,182.7 273.6,178.9 274.9,176.4 276.8,174.1 278.7,173.6 280.6,175.7 283.1,176.4 285.6,176.1 288.7,176.4 291.9,177.6 293.8,179.5 296.9,180.8 300.1,180.2 301.3,182 301.7,182.9"/>
<path stroke-width="1.3" d="M160.7,242.8 160.8,241.7 164.8,240.9 168.6,240.3 171.7,238.4 174.9,237.7 178.7,236.9 181.8,235.6 185.6,234.6 188.1,233.6 190,234 192.5,234.6 190,237.7 187.5,240.3 186.2,242.8 185.2,245.3 184.3,247.8 186.2,247.8 188.8,246.6 190.6,247.8 191.9,245.9 193.8,244.7 195.3,245.9 196.9,244 198.8,244 200.1,242.4 201.6,242.2"/>
<path stroke-width="1.3" d="M201.6,242.2 199.5,246.6 203.2,245.9 202,249.1 200.1,252.2 204.5,251.2 206.4,253.5 208.9,255 211.4,257"/>
<path stroke-width="1.3" d="M211.4,257 208.9,257.9 205.8,256.6 202.6,257.3 198.8,257.9 195.1,259.2 191.9,258.5 188.8,257.3 185.6,256 182.5,255.4 179.9,255.8 176.8,254.1 175.5,255 173.6,254.5 171.7,253.5 170.1,252.2 171.1,249.1 172.1,246.6 172.4,244.7 170.9,244.4 168.6,245.3 166.7,247.2 166.1,249.1 166.7,251.6 167.3,253.5 165.4,254.5 162.9,255 161,254.5 159.5,256 159.8,257.9 158.5,259.8 157.5,261.8 159.8,260 162.3,260.4 164.8,261.1 167.3,262.1 168.6,264.2 169.2,267.4 168.6,270.5 168,273.7 167.1,276.2 165.8,278.1 167.3,279.3 169.2,277.4 170.5,274.9 171.7,272.4 173.6,270.5 174.9,268.6 178,267.4 181.2,268 184.3,269.2 187.5,269.9 190,271.1 192.5,272.4 196.3,273.7 199.5,274.9 200.7,275.9"/>
<path d="M301.7,182.9 300,187.5 299.2,191.7 300.8,196.7 304.2,201.7 307.5,205.8 310.8,210 312.5,214.2 310,217.5 306.7,220.8 305,225 304.2,227.6"/>
<path d="M304.2,227.6 306.7,230.7 309.9,233.3 308.6,235.2 305.5,236.4 303.6,238.3 303,242.1 302.3,245.6"/>
<path stroke-width="1.6" d="M192.8,234.6 197.6,232.1 202.6,229.6 207.7,227 211.4,225.1"/>
<path stroke-width="1.6" d="M206.4,258.5 207.7,260.4 210.2,261.7 211.4,264.2 214.6,264.8 215.8,268"/>
<path stroke-width="1.5" d="M211.4,258.3 215.8,258.3 220.3,257.5"/>
<path stroke-width="1.4" d="M199.5,245.7 205.1,244.9 210.8,243.7"/>
<path stroke-width="1.4" d="M200.1,252.2 205.1,248.5 208.9,247.2"/>
<path stroke-width="1.4" d="M206.1,253 212.1,250.7"/>
<path stroke-width="1.4" d="M208.9,255.3 215.2,253.5"/>
<path stroke-width="1.3" d="M200.7,275.9 202.5,279.2 203.3,283.3 204.7,286.7 205,290.8 204.2,294.7 203.7,297 203.3,295"/>
<path stroke-width="1.3" d="M203.3,295 201.7,296.7 198.3,297.5 195,295.8 190,294.7 185,295 180,296.3"/>
<path stroke-width="1.3" d="M180,296.3 176.7,296.3 171.7,296.7 166.7,297 161.7,297.5 156.7,298.3 151.7,298 146.7,298.7 141.7,300 138.3,303.7 141.7,305.3 145,305.8 148.3,306.7 151.7,308.3 155,310 158.3,311.7 160.8,314.2 163.3,313.3 167.5,312.5 171.7,315 175.8,317.5"/>
<path stroke-width="1.3" d="M175.8,317.5 179.2,320.8 182.5,325.8 185.8,331.7 188.3,338.3 188.7,340"/>
<path stroke-width="1.3" d="M188.7,340 189.2,343.3 188.3,348.3 187.5,353.3 184.2,354.2 183.7,357.5 185.8,360 190.8,360 195,360.8 198.3,361.7 203.3,362 207.5,361.7 210,359.2 212.5,356.7 214.2,354.2 213.3,350.8 215,347.5 217.5,345.8 215.8,341.7"/>
<path stroke-width="1.3" d="M215.8,341.7 220,343.3 222.5,345.8 225.8,347.5 229.2,350 231.7,352.5 236.7,352 240,351.7 240.3,346.7 240.8,343.3 243.3,344.2 245.5,343.3"/>
<path stroke-width="1.6" d="M224.2,325 225.8,329.2 223.3,331.7 220,335 216.7,339.2 215.8,341.3"/>
<path stroke-width="2.2" d="M210.8,346.7 212.5,349.2 212,352"/>
<path d="M280.5,304.2 281,300.8 282.2,296.7 286.3,294.2 291.3,292.5 296,290.8"/>
<path d="M296,290.8 301.3,289.2 305.5,287.5 309.7,287.5"/>
<path d="M302.3,245.6 304.9,246.5 308,248.4 309.3,251.5 308.6,255.3 309.3,259.1 311.1,261 311.4,262.4"/>
<path d="M311.4,262.4 309.9,263.5 308,265.4 310.5,266 311.8,268.5 311.1,271.7 309.9,274.2 308,276.7 306.7,279.3 307.3,282.5 310.5,285.8 309.7,287.5"/>
<path d="M309.7,287.5 314.7,289.2 320.5,290 323,291.7 322.2,295 324.2,297 328.3,295.8 332.5,295 335.8,294.2 339.2,296.7 342.5,299.2 346.7,300 350,299.2 353.7,298.7"/>
<path d="M280.5,304.2 283,305.8 283.8,310.8 286.3,314.2 287.2,319.2 288.8,323.3 290.5,328.3 294.7,329.2 299.7,328.7 303,330 307.2,332.5 310.5,333.3 312.2,336.7 313.8,338.3 317.2,335.8 321.3,334.2 323.8,336.7 324.7,340"/>
<path stroke-width="1.3" d="M245.5,343.3 248,347.5 250.5,350.8 252.2,354.2 251.3,356.7 253.8,359.2 256.3,363.3 258,365.8 262.2,366.7 266.3,367.5 270.5,366.7 273,365"/>
<path stroke-width="1.3" d="M273,365 275.5,367.5 278,365 281.3,362.5 285.5,361.7 279.7,364.2 278,368.3 281.3,370.8 285.5,370 288,372.5 292.2,373.3 296.3,374.7 301.3,375.3 302.2,375.8"/>
<path d="M324.7,340 323,344.2 320.5,348.3 321.3,351.7 319.7,355.8 316.3,357.5 313.8,360 310.5,363.3 307.2,362.5 305,359.2 302.2,362.5 303,367.5 303.8,371.7 302.2,375.8"/>
<path stroke-width="1.3" d="M302.2,375.8 304.7,380 306.3,384.2 308.8,387.5 312.2,390.8 316.3,390 320.5,390 323.8,388.3 325.5,385 326.3,390 326.3,393.3 329.7,391.7 334.7,393.3 336.3,395.8 341.3,398.3 344.7,401.7 345,404.2 345.8,400 347.5,397 350.8,396.3"/>
<path stroke-width="1.6" d="M272.7,356.7 272.2,360.8 273.3,365"/>
<path stroke-width="1.5" d="M278,365 281.3,362.8 285.5,361.8"/>
<path stroke-width="1.6" d="M352.5,395.8 347.5,397 345.8,400 345,403.3"/>
<path stroke-width="1.3" d="M301.7,182.9 301.7,182.5 304.2,184.2 306.7,183.3 310.8,185 311.7,180 311.3,175 315,171.7 312.5,168.3 311.7,164.2 308.7,164.2 309.2,160 313.3,158.3 317.5,156.7 320,153.3 323.3,152.5 327.5,153.3 330,155.8 333.3,156.7 334.2,160 337.5,160.8 340,158.3 344.2,156.7 348.3,155 350.8,152.5 354.2,154.2 356.7,153.3 360,150.8 362.5,149.2 364.2,151.7 364.7,155.8 363.3,160 361.7,163.3 360,165.8 363.3,165.8 365.8,161.7 367.5,157.5 370,155 373.3,153.3 376.7,151.7 380.8,150.8 384.2,147.5 381.7,151.7 382,155.8 380.8,160"/>
<path stroke-width="1.3" d="M380.8,160 381.7,162.5 385.8,161.3 390,161.7 391.7,164.2 389.2,166.7 387.5,169.2 390,171.7 394.2,173 398.3,174.2 400.8,176.7 400,180 399.2,182.5"/>
<path stroke-width="1.3" d="M399.2,182.5 403.3,186.7 406.7,190.8 407.5,192.2"/>
<path stroke-width="1.3" d="M407.5,192.2 410,195 413.3,197.5 415.8,200 415,204.2 416.7,208.3 419.2,211.7 422.5,215 425.8,218.3 427.5,221.7 426.7,225 429.2,227.5 430.8,230.8 433,234.2 433.3,229.2 433,225 435.8,225.8 439.7,227.5"/>
<path stroke-width="1.3" d="M439.7,227.5 440,224.2 443.3,221.7 446.7,219.2 450,215.8 450.8,212.5 455,210.8 459.2,209.2 462.5,207.5 461.7,204.2 465,203 469.2,202.5 470.8,205 474.2,205.3"/>
<path stroke-width="1.5" d="M316.7,174.2 322.5,173.7 327.5,174.2"/>
<path stroke-width="1.5" d="M360.8,164.2 358.7,165.8 361.7,169.2 357.5,172.5"/>
<path stroke-width="1.5" d="M361.7,169.2 364.5,170.8"/>
<path stroke-width="1.6" d="M381.3,156.7 380.8,160 378.3,167.5 376.7,170.8 374.2,174.2 372.5,178.3 373,182.5"/>
<path stroke-width="1.5" d="M372.5,178.3 376.3,180.8 380,182.5"/>
<path d="M370,289.7 374.2,290 378.3,290.8 380.8,294.2 382.5,298.3 385.8,300 389.2,298.3 393.3,299.2 397.5,300.8 400.8,303.3 405,305 409.2,305.8 411.7,308.3 413.3,312.5 413.7,316.7 415.8,313.3 420,312.5 424.2,312.5 427.5,310 430,313.3 429.2,318.3 428.3,322.5 427.5,326.7 429.2,329.7"/>
<path d="M429.2,329.7 433.3,329.7 436.7,327.5 440,325 442.5,323.3 444.2,320 446.7,317.5 449.2,314.2 450,310.8 448.3,307.5 449.2,305.8 453.3,305 457.5,304.2 461.7,303.3 465,303.7 466.7,306.7 469.2,309.2 470.8,313.3 472.5,315 475.8,314.2 479.2,312.5 483.3,312.5"/>
<path d="M483.3,312.5 485,310 488.3,307.5 490.8,304.2 492.5,298.3"/>
<path d="M483.3,312.5 485,316.7 486.7,321.7 485.8,325.8"/>
<path stroke-width="1.3" d="M474.2,205.3 477.5,203.3 480.8,201.7 483.3,199.2 485.8,196.3 487.5,199.2 489.2,200.8 486.7,204.2 484.2,207.5 482.5,210.8 486.7,209.2 490.8,206.7 494.2,205.8 495,209.2 496.7,213.3 498.3,217.5 498.7,220.8 497,224.2 496.7,227.5 499.2,223.3 501.3,219.7 503,218.7"/>
<path stroke-width="1.3" d="M503,218.7 501.3,215.8 502.5,212.5 505,210.3 505.8,214.2 507.5,213 510,210.8 512.5,209.2 516.7,208.7 520.8,209.7 524.2,211.3"/>
<path d="M536.7,228.3 538.3,231.7 539.2,235.8 538.7,240 538.7,243.7"/>
<path stroke-width="1.3" d="M524.2,211.3 526.7,208.3 527.5,204.2 530,201.7 529,201.2 536.5,198.8 544,197.5 550.2,194.5 552.8,196.2 551.5,202.5 547.8,206.2 546.5,211.2 550.2,214.5 556.5,216.2 556.7,217.2"/>
<path stroke-width="1.3" d="M556.7,217.2 563.3,217.5 570,217 576.7,216.3 580,215.8 587.5,215"/>
<path d="M587.5,215 588.3,215.8 590,220 592.5,224.2 594.2,227.5 593.3,230.8 595,235 596.7,240 597.5,244.2 598,245"/>
<path d="M598,245 601.7,246.7 604.2,249.2 605.8,251.7 610,252 614.2,250.8 616.7,248.3 618.3,247"/>
<path d="M618.3,247 620.8,244.2 624.2,242.5 627.5,240.8 628.3,237.5 630.8,235.3 635,235.8 638.3,236.7 641.7,239.2 645.8,240.8 650,242.5 654.2,243.7 655.8,245 655,250 655.3,255 654.2,260 655,265 655.8,270 656.7,275 657.5,280"/>
<path d="M538.7,243.7 535.8,247.5 533.3,250 534.2,255 533.3,260 533,265 534.2,269.2 532.5,271.7 530,273.3 529.7,277.5 528.3,280.8"/>
<path d="M528.3,280.8 534,260 533.4,263.8 534.6,267.6 533.4,270.7 530.2,272 529.6,275.7 530.9,278.9 530.2,282 527.1,283.3 523.3,283.9 520.2,282 517,280.8 513.9,282 512.6,285.2 509.4,285.8 508.8,288.3 506.3,287.1 502.5,287.1 500,287.7 492.5,298.3"/>
<path stroke-width="1.7" d="M534.3,231 532,233.3 528.7,235.8 526.7,239.7"/>
<path stroke-width="1.4" d="M497,220 497.5,227.5"/>
<path stroke-width="1.3" d="M345,404.2 346.3,405.8 348.8,410 351.3,415 353,420 353.3,421.7 352,428.3 351.3,433.3 352,437.5 354.2,440.8 356.7,442.5 357.5,440.8 355.8,437.5 354.2,433.3 354.2,428.3 355,423.3 355.8,418.3 357.5,419.2 360,422.5 365,420.8 370,419.2 372.5,421.7 375,420 377.5,422.5 380,425 380.8,420 380,416.7 379.3,410.8"/>
<path d="M353.7,298.7 357.5,297.5 361.7,297 364.2,294.2 365,290.8 368.3,289.7 370,289.7"/>
<path d="M650,295 650,300 650.8,305 651.7,310 651.3,315 652.5,319.2 653.3,324.2 654.2,330 655.8,334.2 657.5,337.5 656.7,341.7 656.3,345.8 657.5,350 655.8,352.5 652.5,353.3 648.3,353.3 644.2,354.2 641.7,356.7 638.3,358.3 637.5,362.5 636.7,366.7 635,370 634.2,371.7 632.5,375 631.7,378.3 628.3,380 627.5,380.8"/>
<path d="M657.5,280 657.5,282.5 655,285.8 652.5,289.2 650.8,292.5 650,295"/>
<path d="M627.5,380.8 626.7,384.2 625,387.5 624.2,391.7 623.3,395 620,394.7 615.8,393 611.7,391.7 608.3,390.8 605.8,388.3 604.2,385.3 600.8,384.2 596.7,382.5 593.3,382.5 592,385.3"/>
<path d="M592,385.3 591.7,389.2 587.5,390 583.3,390.8 579.2,392.5 575,393.3 572.5,395.8 570,398.3 568.3,401.7 566.7,405 563.3,405.8 560,406.7 556.7,407.8"/>
<path d="M494.2,440.8 491.7,442.5 490.8,446.7 488.3,446.7 486.7,444.2 488.1,446.4 486.4,443.9 484.3,444.8 481.8,445.6 479.3,446 477.7,444.3 475.2,443.1 472.7,442.7 471.8,442.3"/>
<path stroke-width="1.3" d="M451,444.1 447.7,445.6 445.6,444.3 443.9,443.9 442.7,444.3 443.1,446.8 443.5,449.3 442.7,451.8 443.9,453.9 445.6,454.8 447.7,453.5 449.2,451.8"/>
<path stroke-width="1.3" d="M433,437.5 434.3,439.8 436,440.2 438.5,438.5 441,438.1 443.9,439.3 446.8,441 450.2,443.1 451,444.1"/>
<path stroke-width="1.3" d="M433,437.5 429.2,436.7 426.7,438.7 423.3,439.7 420,437.5 416.7,441.3 411.7,440.8 406.7,440 401.7,441.7 397.5,440.8 394.2,439.2 393.3,435.8 390,432.5 385.8,430 383.3,426.7 380.8,423.3 379.7,416.7 379.3,410.8"/>
<path d="M485.8,325.8 490,324.7 494.2,324.2"/>
<path d="M494.2,324.2 496.7,325.8 496.3,329.2 493.3,330.8 489.2,330 485,331.7 482.5,334.2 480.8,337.5 480,341.7 484.2,342.5 488.3,343 493.3,344.2 497.5,345.8 501.7,347.5 504.2,350.8 505.8,355 506.7,359.2 505,362.5 503.3,365.8 503,370 503.3,350 505.8,354.2 506.7,359.2 504.2,362.5 502.5,366.7 503.3,371.7 506.7,373.3 509.2,370.8 510.8,374.2 511.7,378.3 510,381.7 507.5,384.2 505.8,387.5 502.5,389.2 499.2,390.8 501.7,392.5 505.8,393.3 508.3,395 507.5,397.5 503.3,397.5 500,399.2 499.2,403.3 499.7,408.3 500.3,413.3 501.7,416.7 503.3,420 503,424.2 500.8,426.7 500,431.7 499.7,436.7 499.2,440 497.5,440"/>
<path d="M501.7,416.7 505.8,415 510,413.3 514.2,410.8 518.3,410 523.3,409.2 528.3,408.3 533.3,406.7 538.3,405.8 540,405.8"/>
<path d="M449.2,451.8 450.2,449.8 452.7,448.5 453.9,450.6 456,452.2 458.9,452.2 461,451.4 462.7,453.1 465.2,453.5 467.7,452.2 468.9,449.8 469.3,447.2 470.6,444.8 471.4,442.7 471.8,442.3"/>
<path stroke-width="1.3" d="M334.9,457.8 336.8,459.7 339.3,460.9 341.8,462.8 344.3,464.1 347.5,464.7 348.1,467.9 350.6,470.4 353.2,472.3 356.3,474.2 359.5,475.2 361.1,476.7 360.1,479.2 358.2,481.1 356.1,482.4 353.8,481.1 351.3,480.2 348.8,479.2 346.2,478 343.7,476.4 341.2,476.7 338.7,477.3 336.2,476.1 333.6,473.5 334.9,471 334.3,467.9 333,464.7 333.4,461.6 334.6,459.1 334.9,457.8"/>
<path stroke-width="1.5" d="M167.9,194.7 169.8,196.6 173.6,197.2 176.7,198.5 179.2,199.7"/>
<path stroke-width="1.5" d="M169.8,187.1 173.6,187.7 176.1,189 179.2,190.9"/>
<path stroke-width="1.4" d="M191.2,182.7 196.9,182.7"/>
</g>
<g fill="none" stroke="#000" stroke-width="2.3" stroke-linecap="butt" stroke-dasharray="1.2 3.1 0.7 4.4 1.6 2.3 0.9 5.2 1.3 3.7">
<path d="M160.7,242.8 155.7,242 150.7,243.3 148.2,241.7 144.8,243.3 140.7,243.8 139.3,240 137.7,235 140,232 138.7,228.3 139.7,224.2 141.5,218.3 145.7,215.3 148,213.7 144.3,213 142.3,210 142.8,205 142.3,201.3 145.7,200 148.2,197 150.7,194.2 154,193.3 157.3,191.3 161,192.5 162.3,192"/>
<path d="M162.2,194 164.1,192.2 166.6,190.9 168.5,189 169.8,187.1 172.3,184.6 175.5,182.7 178,182.1 179.9,184 182.4,184.6 186.2,184 189.3,182.7 190.2,182.6"/>
<path d="M190.2,182.6 192.5,181.4 195,179.6 197.5,178.3 200.7,177 204.4,175.5 207.6,176 210.1,178.3 211.4,180.2 210.7,182.1 212.6,184 214.1,184.6"/>
<path d="M214.1,184.6 212.3,183.9 216.3,182.4 220.7,182.7 222.6,180.8 224.5,178.3 227,176.1 230.8,175.1 235.2,174.9 239.6,175.4 243,176.4 244.8,176.9 245.9,175.1 248.4,173.9 251.6,172 253.5,169.4 256,170.7 257.9,172 258.5,175.1 257.9,178.9 259.1,182.7 259.8,185.2 259.9,186.7"/>
<path d="M259.9,186.7 261.7,184.6 263.5,182.7 264.4,183.3 265.4,184.6 266.1,187.1 268,189.6 270.5,191.5 271.5,194 271,196.5 272.4,194.6 272.7,191.5 273,187.1 272.6,182.7 273.6,178.9 274.9,176.4 276.8,174.1 278.7,173.6 280.6,175.7 283.1,176.4 285.6,176.1 288.7,176.4 291.9,177.6 293.8,179.5 296.9,180.8 300.1,180.2 301.3,182 301.7,182.9"/>
<path d="M160.7,242.8 160.8,241.7 164.8,240.9 168.6,240.3 171.7,238.4 174.9,237.7 178.7,236.9 181.8,235.6 185.6,234.6 188.1,233.6 190,234 192.5,234.6 190,237.7 187.5,240.3 186.2,242.8 185.2,245.3 184.3,247.8 186.2,247.8 188.8,246.6 190.6,247.8 191.9,245.9 193.8,244.7 195.3,245.9 196.9,244 198.8,244 200.1,242.4 201.6,242.2"/>
<path d="M201.6,242.2 199.5,246.6 203.2,245.9 202,249.1 200.1,252.2 204.5,251.2 206.4,253.5 208.9,255 211.4,257"/>
<path d="M211.4,257 208.9,257.9 205.8,256.6 202.6,257.3 198.8,257.9 195.1,259.2 191.9,258.5 188.8,257.3 185.6,256 182.5,255.4 179.9,255.8 176.8,254.1 175.5,255 173.6,254.5 171.7,253.5 170.1,252.2 171.1,249.1 172.1,246.6 172.4,244.7 170.9,244.4 168.6,245.3 166.7,247.2 166.1,249.1 166.7,251.6 167.3,253.5 165.4,254.5 162.9,255 161,254.5 159.5,256 159.8,257.9 158.5,259.8 157.5,261.8 159.8,260 162.3,260.4 164.8,261.1 167.3,262.1 168.6,264.2 169.2,267.4 168.6,270.5 168,273.7 167.1,276.2 165.8,278.1 167.3,279.3 169.2,277.4 170.5,274.9 171.7,272.4 173.6,270.5 174.9,268.6 178,267.4 181.2,268 184.3,269.2 187.5,269.9 190,271.1 192.5,272.4 196.3,273.7 199.5,274.9 200.7,275.9"/>
<path d="M200.7,275.9 202.5,279.2 203.3,283.3 204.7,286.7 205,290.8 204.2,294.7 203.7,297 203.3,295"/>
<path d="M203.3,295 201.7,296.7 198.3,297.5 195,295.8 190,294.7 185,295 180,296.3"/>
<path d="M180,296.3 176.7,296.3 171.7,296.7 166.7,297 161.7,297.5 156.7,298.3 151.7,298 146.7,298.7 141.7,300 138.3,303.7 141.7,305.3 145,305.8 148.3,306.7 151.7,308.3 155,310 158.3,311.7 160.8,314.2 163.3,313.3 167.5,312.5 171.7,315 175.8,317.5"/>
<path d="M175.8,317.5 179.2,320.8 182.5,325.8 185.8,331.7 188.3,338.3 188.7,340"/>
<path d="M188.7,340 189.2,343.3 188.3,348.3 187.5,353.3 184.2,354.2 183.7,357.5 185.8,360 190.8,360 195,360.8 198.3,361.7 203.3,362 207.5,361.7 210,359.2 212.5,356.7 214.2,354.2 213.3,350.8 215,347.5 217.5,345.8 215.8,341.7"/>
<path d="M215.8,341.7 220,343.3 222.5,345.8 225.8,347.5 229.2,350 231.7,352.5 236.7,352 240,351.7 240.3,346.7 240.8,343.3 243.3,344.2 245.5,343.3"/>
<path d="M245.5,343.3 248,347.5 250.5,350.8 252.2,354.2 251.3,356.7 253.8,359.2 256.3,363.3 258,365.8 262.2,366.7 266.3,367.5 270.5,366.7 273,365"/>
<path d="M273,365 275.5,367.5 278,365 281.3,362.5 285.5,361.7 279.7,364.2 278,368.3 281.3,370.8 285.5,370 288,372.5 292.2,373.3 296.3,374.7 301.3,375.3 302.2,375.8"/>
<path d="M302.2,375.8 304.7,380 306.3,384.2 308.8,387.5 312.2,390.8 316.3,390 320.5,390 323.8,388.3 325.5,385 326.3,390 326.3,393.3 329.7,391.7 334.7,393.3 336.3,395.8 341.3,398.3 344.7,401.7 345,404.2 345.8,400 347.5,397 350.8,396.3"/>
<path d="M301.7,182.9 301.7,182.5 304.2,184.2 306.7,183.3 310.8,185 311.7,180 311.3,175 315,171.7 312.5,168.3 311.7,164.2 308.7,164.2 309.2,160 313.3,158.3 317.5,156.7 320,153.3 323.3,152.5 327.5,153.3 330,155.8 333.3,156.7 334.2,160 337.5,160.8 340,158.3 344.2,156.7 348.3,155 350.8,152.5 354.2,154.2 356.7,153.3 360,150.8 362.5,149.2 364.2,151.7 364.7,155.8 363.3,160 361.7,163.3 360,165.8 363.3,165.8 365.8,161.7 367.5,157.5 370,155 373.3,153.3 376.7,151.7 380.8,150.8 384.2,147.5 381.7,151.7 382,155.8 380.8,160"/>
<path d="M380.8,160 381.7,162.5 385.8,161.3 390,161.7 391.7,164.2 389.2,166.7 387.5,169.2 390,171.7 394.2,173 398.3,174.2 400.8,176.7 400,180 399.2,182.5"/>
<path d="M399.2,182.5 403.3,186.7 406.7,190.8 407.5,192.2"/>
<path d="M407.5,192.2 410,195 413.3,197.5 415.8,200 415,204.2 416.7,208.3 419.2,211.7 422.5,215 425.8,218.3 427.5,221.7 426.7,225 429.2,227.5 430.8,230.8 433,234.2 433.3,229.2 433,225 435.8,225.8 439.7,227.5"/>
<path d="M439.7,227.5 440,224.2 443.3,221.7 446.7,219.2 450,215.8 450.8,212.5 455,210.8 459.2,209.2 462.5,207.5 461.7,204.2 465,203 469.2,202.5 470.8,205 474.2,205.3"/>
<path d="M474.2,205.3 477.5,203.3 480.8,201.7 483.3,199.2 485.8,196.3 487.5,199.2 489.2,200.8 486.7,204.2 484.2,207.5 482.5,210.8 486.7,209.2 490.8,206.7 494.2,205.8 495,209.2 496.7,213.3 498.3,217.5 498.7,220.8 497,224.2 496.7,227.5 499.2,223.3 501.3,219.7 503,218.7"/>
<path d="M503,218.7 501.3,215.8 502.5,212.5 505,210.3 505.8,214.2 507.5,213 510,210.8 512.5,209.2 516.7,208.7 520.8,209.7 524.2,211.3"/>
<path d="M524.2,211.3 526.7,208.3 527.5,204.2 530,201.7 529,201.2 536.5,198.8 544,197.5 550.2,194.5 552.8,196.2 551.5,202.5 547.8,206.2 546.5,211.2 550.2,214.5 556.5,216.2 556.7,217.2"/>
<path d="M556.7,217.2 563.3,217.5 570,217 576.7,216.3 580,215.8 587.5,215"/>
<path d="M345,404.2 346.3,405.8 348.8,410 351.3,415 353,420 353.3,421.7 352,428.3 351.3,433.3 352,437.5 354.2,440.8 356.7,442.5 357.5,440.8 355.8,437.5 354.2,433.3 354.2,428.3 355,423.3 355.8,418.3 357.5,419.2 360,422.5 365,420.8 370,419.2 372.5,421.7 375,420 377.5,422.5 380,425 380.8,420 380,416.7 379.3,410.8"/>
<path d="M451,444.1 447.7,445.6 445.6,444.3 443.9,443.9 442.7,444.3 443.1,446.8 443.5,449.3 442.7,451.8 443.9,453.9 445.6,454.8 447.7,453.5 449.2,451.8"/>
<path d="M433,437.5 434.3,439.8 436,440.2 438.5,438.5 441,438.1 443.9,439.3 446.8,441 450.2,443.1 451,444.1"/>
<path d="M433,437.5 429.2,436.7 426.7,438.7 423.3,439.7 420,437.5 416.7,441.3 411.7,440.8 406.7,440 401.7,441.7 397.5,440.8 394.2,439.2 393.3,435.8 390,432.5 385.8,430 383.3,426.7 380.8,423.3 379.7,416.7 379.3,410.8"/>
</g>
<g fill="none" stroke="#fff" stroke-linejoin="round" stroke-linecap="round">
</g>
<path fill="#ff0000" stroke="#000" stroke-width="0.9" stroke-linejoin="round" d="M302.2,401.3 304.7,400 308,400.8 311.3,402 314.7,403.3 315.5,405.8 313.8,407.5 310.5,407 307.2,405.8 304.3,404.2Z"/>
<path fill="#ffffff" stroke="#000" stroke-width="1.0" stroke-linejoin="round" d="M523,210.3 525,211.7 526.3,215.8 528.3,219.2 530.3,223 533,226.7 535,230 533.3,232 531.7,229.7 529.2,226.7 526.7,223 525,219.7 523.7,215.8 522.3,212.5Z"/>
<path fill="#ffffff" stroke="#000" stroke-width="1.3" stroke-linejoin="round" d="M90.7,210.8 94,208.3 97.3,205.8 99.8,206.7 101.5,205.8 103.2,207.5 104,210 105.7,210.8 104,213 100.7,213 98.2,214.2 95.7,215 93.2,213.7 91.5,212.5Z"/>
<path fill="#000" stroke="#000" stroke-width="0.3" stroke-linejoin="round" d="M106.5,217.7 108.1,217.7 108.1,219 106.5,219Z"/>
<path fill="#000" stroke="#000" stroke-width="0.3" stroke-linejoin="round" d="M110.7,220.7 112.3,220.7 112.3,222 110.7,222Z"/>
<path fill="#000" stroke="#000" stroke-width="0.3" stroke-linejoin="round" d="M114,224.3 115.6,224.3 115.6,225.7 114,225.7Z"/>
<path fill="#000" stroke="#000" stroke-width="0.3" stroke-linejoin="round" d="M115.7,230.2 117.3,230.2 117.3,231.5 115.7,231.5Z"/>
<path fill="#000" stroke="#000" stroke-width="0.3" stroke-linejoin="round" d="M122.4,230.2 124,230.2 124,231.5 122.4,231.5Z"/>
<path fill="#000" stroke="#000" stroke-width="0.3" stroke-linejoin="round" d="M127.4,236.3 129,236.3 129,237.7 127.4,237.7Z"/>
<path fill="#000" stroke="#000" stroke-width="0.3" stroke-linejoin="round" d="M123.2,243.2 124.8,243.2 124.8,244.5 123.2,244.5Z"/>
<path fill="#000" stroke="#000" stroke-width="0.3" stroke-linejoin="round" d="M119.9,302.1 122.1,302.1 122.1,303.1 119.9,303.1Z"/>
<path fill="#ff0000" stroke="#000" stroke-width="0.9" stroke-linejoin="round" d="M248.4,165.3 250.3,164 252.8,163.8 254.7,164.8 255.4,166.3 253.5,166.9 250.9,166.6 249.1,166.3Z"/>
<path fill="#000" stroke="#000" stroke-width="0.3" stroke-linejoin="round" d="M325.2,141.8 328.8,141.8 328.8,143.2 325.2,143.2Z"/>
<path fill="#000" stroke="#000" stroke-width="0.3" stroke-linejoin="round" d="M329.6,140.7 332.1,140.7 332.1,141.9 329.6,141.9Z"/>
<path fill="#000" stroke="#000" stroke-width="0.3" stroke-linejoin="round" d="M333.6,139.8 334.8,139.8 334.8,140.8 333.6,140.8Z"/>
<path fill="#000" stroke="#000" stroke-width="0.3" stroke-linejoin="round" d="M336.9,152.1 338.1,152.1 338.1,154.6 336.9,154.6Z"/>
<path fill="#000" stroke="#000" stroke-width="0.3" stroke-linejoin="round" d="M366.5,148.2 368.5,148.2 368.5,150.2 366.5,150.2Z"/>
<path fill="#000" stroke="#000" stroke-width="0.3" stroke-linejoin="round" d="M391.4,153.7 394.6,153.7 394.6,156.3 391.4,156.3Z"/>
<path fill="#000" stroke="#000" stroke-width="0.3" stroke-linejoin="round" d="M394.4,165.2 395.6,165.2 395.6,166.4 394.4,166.4Z"/>
<path fill="#000" stroke="#000" stroke-width="0.3" stroke-linejoin="round" d="M398.4,169.4 399.9,169.4 399.9,170.6 398.4,170.6Z"/>
<path fill="#000" stroke="#000" stroke-width="0.3" stroke-linejoin="round" d="M311.5,156.1 313.5,156.1 313.5,157.3 311.5,157.3Z"/>
<path fill="#000" stroke="#000" stroke-width="0.3" stroke-linejoin="round" d="M309.2,161.2 310.8,161.2 310.8,163.8 309.2,163.8Z"/>
<path fill="#000" stroke="#000" stroke-width="0.3" stroke-linejoin="round" d="M314.2,154.4 315.8,154.4 315.8,155.6 314.2,155.6Z"/>
<path fill="#000" stroke="#000" stroke-width="0.3" stroke-linejoin="round" d="M351.8,152.3 354.8,152.3 354.8,154.3 351.8,154.3Z"/>
<path fill="#000" stroke="#000" stroke-width="0.3" stroke-linejoin="round" d="M387.6,151.9 389.1,151.9 389.1,153.1 387.6,153.1Z"/>
<path fill="#000" stroke="#000" stroke-width="0.3" stroke-linejoin="round" d="M232.3,379.6 235.3,379.6 235.3,382.1 232.3,382.1Z"/>
<path fill="#000" stroke="#000" stroke-width="0.3" stroke-linejoin="round" d="M236.5,380.7 239.5,380.7 239.5,382.7 236.5,382.7Z"/>
<path fill="#000" stroke="#000" stroke-width="0.3" stroke-linejoin="round" d="M240.6,379.6 242.1,379.6 242.1,381.1 240.6,381.1Z"/>
<path fill="#000" stroke="#000" stroke-width="0.3" stroke-linejoin="round" d="M231.7,367.5 232.7,367.5 232.7,368.5 231.7,368.5Z"/>
<path fill="#000" stroke="#000" stroke-width="0.3" stroke-linejoin="round" d="M263.3,370.8 264.3,370.8 264.3,371.8 263.3,371.8Z"/>
<path fill="#000" stroke="#000" stroke-width="0.3" stroke-linejoin="round" d="M345.8,412 346.8,412 346.8,413 345.8,413Z"/>
<path fill="#000" stroke="#000" stroke-width="0.3" stroke-linejoin="round" d="M349.1,423.6 350.3,423.6 350.3,424.8 349.1,424.8Z"/>
<path fill="#ff0000" stroke="#000" stroke-width="0.9" stroke-linejoin="round" d="M371.2,458.4 373.3,459.3 375.8,460.3 377.7,460.1 379,460.9 378,462.8 377.5,464.7 376.2,462.8 374.2,461.6 372.1,460.3Z"/>
<path fill="#ff0000" stroke="#000" stroke-width="0.9" stroke-linejoin="round" d="M385,471 387.2,470.4 389.3,471 389.1,473.5 387.2,474.4 385.3,473.5Z"/>
<path fill="#000" stroke="#000" stroke-width="0.3" stroke-linejoin="round" d="M366.9,455.3 370.4,455.3 370.4,456.1 366.9,456.1Z"/>
<path fill="#000" stroke="#000" stroke-width="0.3" stroke-linejoin="round" d="M373.5,467.5 375,467.5 375,468.7 373.5,468.7Z"/>
<path fill="#000" stroke="#000" stroke-width="0.3" stroke-linejoin="round" d="M392.3,475.1 393.5,475.1 393.5,476.3 392.3,476.3Z"/>
<path fill="#000" stroke="#000" stroke-width="0.3" stroke-linejoin="round" d="M348.4,423.7 350.4,423.7 350.4,425.2 348.4,425.2Z"/>
<path fill="#000" stroke="#000" stroke-width="0.3" stroke-linejoin="round" d="M380.1,430.7 381.6,430.7 381.6,431.9 380.1,431.9Z"/>
<path fill="#ffffff" stroke="#000" stroke-width="1.0" stroke-linejoin="round" d="M392.1,415.4 393.3,414 395.4,414.3 397.1,415.4 399.2,414.3 401.2,414.8 403.3,415.8 405,414.6 406,412.7 407.5,411.2 409.2,410.8 410.4,412.5 411,415 412.1,417.1 413.3,419.2 413.8,421.7 413.2,424.2 412.3,426.7 411.2,428.8 410,430.7 408.2,431.8 406.2,431.2 404.6,429.6 402.7,430.4 400.7,431 398.8,430 396.7,430.7 394.6,430.8 392.9,430 391.5,428.3 390.4,426.2 389.8,423.8 390.2,421.2 391,418.8 391.7,416.8Z"/>
<path fill="#ffffff" stroke="#000" stroke-width="0.9" stroke-linejoin="round" d="M377.9,405.4 379.2,408.3 380.5,411.2 380.2,414.6 380.8,417.3 381.8,420 383.3,422.1 385,423.8 387.5,425 390,426 388.8,427.7 386.2,427.1 384,425.8 382.3,426.7 381,424.6 380,422.3 379.3,420 379,417.1 379.5,414.3 379.7,411.7 378.7,408.8Z"/>
<path fill="#1a0505" stroke="#000" stroke-width="0.5" stroke-linejoin="round" d="M395.4,417.4 396.5,416.9 397.5,417.2 398,418.2 397.2,418.9 396.2,418.7Z"/>
<path fill="#1a0505" stroke="#000" stroke-width="0.5" stroke-linejoin="round" d="M400.5,418.7 401.3,418.4 401.8,419.5 402.3,420.8 401.8,421.8 401,421 400.8,420Z"/>
<path fill="#1a0505" stroke="#000" stroke-width="0.5" stroke-linejoin="round" d="M406.2,420.5 407.2,420 408.3,420.5 408.8,421.8 407.8,422.8 406.7,422.3Z"/>
<path fill="#1a0505" stroke="#000" stroke-width="0.5" stroke-linejoin="round" d="M394.1,423.4 395.2,423 395.7,424.4 395.3,426.2 394.4,426.7 393.9,425.2Z"/>
<path fill="#1a0505" stroke="#000" stroke-width="0.5" stroke-linejoin="round" d="M398.9,425.6 399.9,425.2 400.7,426.4 400.2,427.6 399.1,427.9Z"/>
<path fill="#1a0505" stroke="#000" stroke-width="0.5" stroke-linejoin="round" d="M404.2,426.3 405.3,425.9 405.9,427.1 405.3,428.3 404.4,427.9Z"/>
<path fill="#1a0505" stroke="#000" stroke-width="0.5" stroke-linejoin="round" d="M408.7,415.3 409.8,414.8 410.5,415.9 410.1,417.2 409.1,416.9Z"/>
<path fill="#1a0505" stroke="#000" stroke-width="0.5" stroke-linejoin="round" d="M381,416.5 381.6,417.1 381.4,418.5 380.9,418Z"/>
<path fill="#1a0505" stroke="#000" stroke-width="0.5" stroke-linejoin="round" d="M384.4,423.7 385.4,424.2 384.9,425 384.1,424.5Z"/>
<path fill="#1a0505" stroke="#000" stroke-width="0.5" stroke-linejoin="round" d="M401.8,424.1 402.6,424.3 402.4,425.1 401.7,424.8Z"/>
<path fill="#1a0505" stroke="#000" stroke-width="0.5" stroke-linejoin="round" d="M396.8,420.3 397.4,420.5 397.2,421.2 396.7,420.9Z"/>
<path fill="#1a0505" stroke="#000" stroke-width="0.5" stroke-linejoin="round" d="M406.8,416.6 407.4,416.8 407.1,417.6 406.6,417.2Z"/>
<path fill="#1a0505" stroke="#000" stroke-width="0.5" stroke-linejoin="round" d="M410.1,423.6 410.8,423.9 410.6,424.7 410,424.2Z"/>
<path fill="#1a0505" stroke="#000" stroke-width="0.5" stroke-linejoin="round" d="M399.3,416 399.8,416.1 399.7,416.6 399.2,416.5Z"/>
<path fill="#1a0505" stroke="#000" stroke-width="0.5" stroke-linejoin="round" d="M391.8,420.3 392.4,420.6 392.2,421.3 391.7,420.9Z"/>
<path fill="#1a0505" stroke="#000" stroke-width="0.5" stroke-linejoin="round" d="M411,419.5 411.6,419.8 411.4,420.5 410.9,420.1Z"/>
<path fill="#1a0505" stroke="#000" stroke-width="0.5" stroke-linejoin="round" d="M404.3,422.7 404.8,422.9 404.6,423.5 404.1,423.2Z"/>
<path fill="#ffffff" stroke="#000" stroke-width="1.0" stroke-linejoin="round" d="M336.7,373 338.3,374.2 335.5,377.5 332.2,380 329.7,382 327.8,385.3 328,388.7 330.3,390 335,391 335.8,392.7 331.7,393 328.3,392 326,391 325.5,387.5 326.7,383.7 329.2,380.7 332.5,378 335,375.3Z"/>
<path fill="#000" stroke="#000" stroke-width="0.3" stroke-linejoin="round" d="M329.2,385.2 330.8,385.2 330.8,388.2 329.2,388.2Z"/>
<path fill="#ffffff" stroke="#000" stroke-width="0.9" stroke-linejoin="round" d="M438,484.7 440.8,484.2 443.3,485.3 443,487.5 440,488 438,486.7Z"/>
</g>
<rect x="600.3" y="142.00" width="19.9" height="13.33" fill="#8b0000" stroke="#000" stroke-width="0.6"/>
<rect x="600.3" y="155.33" width="19.9" height="13.33" fill="#b22222" stroke="#000" stroke-width="0.6"/>
<rect x="600.3" y="168.66" width="19.9" height="13.33" fill="#ff0000" stroke="#000" stroke-width="0.6"/>
<rect x="600.3" y="181.99" width="19.9" height="13.33" fill="#ff8c00" stroke="#000" stroke-width="0.6"/>
<rect x="600.3" y="195.32" width="19.9" height="13.33" fill="#ffd700" stroke="#000" stroke-width="0.6"/>
<rect x="600.3" y="208.65" width="19.9" height="13.33" fill="#00ff00" stroke="#000" stroke-width="0.6"/>
<g font-family="Liberation Sans, sans-serif" font-size="6.7" fill="#4a2a2a">
<text x="625.2" y="144.80">Inf</text>
<text x="625.2" y="158.13">250</text>
<text x="625.2" y="171.46">150</text>
<text x="625.2" y="184.79">50</text>
<text x="625.2" y="198.12">20</text>
<text x="625.2" y="211.45">10</text>
<text x="625.2" y="224.78">0</text>
</g>
<text x="600.4" y="131.8" font-family="Liberation Sans, sans-serif" font-size="9.35" fill="#222">Taux d'incidence</text>
<rect x="94.4" y="141.8" width="20.4" height="13.9" fill="#fff"/><rect x="94.4" y="141.8" width="20.4" height="13.9" fill="url(#h2)" stroke="#555" stroke-width="0.7"/>
<text x="119.8" y="151" font-family="Liberation Sans, sans-serif" font-size="6.6" fill="#333">&lt; 50 000 hab</text>
<text x="90.3" y="505.6" font-family="Liberation Sans, sans-serif" font-size="6.9" fill="#667">SIDEP</text>
<rect x="618.1" y="508" width="57.3" height="1.5" fill="#111"/>
<text x="646.8" y="505.8" text-anchor="middle" font-family="Liberation Serif, serif" font-size="7.3" fill="#111">30 km</text>
<g font-family="Liberation Sans, sans-serif" font-size="7.6" fill="#000" text-anchor="middle" fill-opacity="0.75">
<text transform="translate(155.8 221.3) scale(0.95 1.17)">25</text>
<text transform="translate(182.8 206.8) scale(0.95 1.17)">20</text>
<text transform="translate(205.3 198.3) scale(0.95 1.17)">11</text>
<text transform="translate(179.3 232.3) scale(0.95 1.17)">299</text>
<text transform="translate(239.3 189.8) scale(0.95 1.17)">18</text>
<text transform="translate(241.8 219.8) scale(0.95 1.17)">19</text>
<text transform="translate(219.3 238.3) scale(0.95 1.17)">46</text>
<text transform="translate(280.8 210.8) scale(0.95 1.17)">28</text>
<text transform="translate(272.8 250.8) scale(0.95 1.17)">0</text>
<text transform="translate(185.8 267.3) scale(0.95 1.17)">6</text>
<text transform="translate(232.8 281.8) scale(0.95 1.17)">16</text>
<text transform="translate(300.8 271.8) scale(0.95 1.17)">3</text>
<text transform="translate(272.3 289.3) scale(0.95 1.17)">5</text>
<text transform="translate(167.3 308.3) scale(0.95 1.17)">2</text>
<text transform="translate(195.8 305.8) scale(0.95 1.17)">7</text>
<text transform="translate(195.3 329.8) scale(0.95 1.17)">6</text>
<text transform="translate(202.8 352.3) scale(0.95 1.17)">19</text>
<text transform="translate(229.8 314.3) scale(0.95 1.17)">72</text>
<text transform="translate(233.8 343.3) scale(0.95 1.17)">10</text>
<text transform="translate(260.3 342.3) scale(0.95 1.17)">23</text>
<text transform="translate(293.3 347.3) scale(0.95 1.17)">14</text>
<text transform="translate(319.3 316.3) scale(0.95 1.17)">12</text>
<text transform="translate(347.8 277.3) scale(0.95 1.17)">1</text>
<text transform="translate(335.3 186.8) scale(0.95 1.17)">63</text>
<text transform="translate(352.8 222.3) scale(0.95 1.17)">50</text>
<text transform="translate(390.8 216.3) scale(0.95 1.17)">15</text>
<text transform="translate(410.8 243.3) scale(0.95 1.17)">220</text>
<text transform="translate(460.3 251.8) scale(0.95 1.17)">82</text>
<text transform="translate(429.3 293.3) scale(0.95 1.17)">58</text>
<text transform="translate(392.8 320.8) scale(0.95 1.17)">47</text>
<text transform="translate(337.8 362.3) scale(0.95 1.17)">253</text>
<text transform="translate(398.3 357.3) scale(0.95 1.17)">70</text>
<text transform="translate(345.3 390.8) scale(0.95 1.17)">25</text>
<text transform="translate(369.8 398.8) scale(0.95 1.17)">78</text>
<text transform="translate(505.3 254.3) scale(0.95 1.17)">169</text>
<text transform="translate(573.8 235.8) scale(0.95 1.17)">53</text>
<text transform="translate(552.8 267.3) scale(0.95 1.17)">40</text>
<text transform="translate(635.3 274.3) scale(0.95 1.17)">124</text>
<text transform="translate(602.8 264.3) scale(0.95 1.17)">61</text>
<text transform="translate(572.8 290.8) scale(0.95 1.17)">30</text>
<text transform="translate(599.3 304.8) scale(0.95 1.17)">39</text>
<text transform="translate(507.8 305.8) scale(0.95 1.17)">55</text>
<text transform="translate(526.3 318.3) scale(0.95 1.17)">37</text>
<text transform="translate(561.8 326.3) scale(0.95 1.17)">746</text>
<text transform="translate(629.8 335.8) scale(0.95 1.17)">146</text>
<text transform="translate(595.3 338.3) scale(0.95 1.17)">32</text>
<text transform="translate(511.8 340.8) scale(0.95 1.17)">25</text>
<text transform="translate(458.8 340.8) scale(0.95 1.17)">68</text>
<text transform="translate(478.8 378.3) scale(0.95 1.17)">54</text>
<text transform="translate(534.3 365.8) scale(0.95 1.17)">56</text>
<text transform="translate(566.8 384.8) scale(0.95 1.17)">42</text>
<text transform="translate(603.8 373.3) scale(0.95 1.17)">36</text>
<text transform="translate(412.8 407.3) scale(0.95 1.17)">297</text>
<text transform="translate(459.3 408.3) scale(0.95 1.17)">42</text>
<text transform="translate(461.8 435.8) scale(0.95 1.17)">22</text>
<text transform="translate(517.3 414.3) scale(0.95 1.17)">76</text>
<text transform="translate(456.3 469.3) scale(0.95 1.17)">97</text>
<text transform="translate(541.8 222.8) scale(0.95 1.17)">183</text>
<text transform="translate(515.6 222.8) scale(0.95 1.17)">40</text>
</g>
<rect x="1.8" y="505" width="450.9" height="33" fill="#eeece1"/>
<rect x="453.5" y="510.8" width="287.9" height="23.2" fill="#0a629a"/>
</svg>
<h1>Nombre de cas positifs par EPCI</h1>
<p class="note"><span class="ln l1"><span class="an">A noter :</span> sur zones géographiques à faible population en terme de dénominateur, cet indicateur présente une variabilité très rapide. En effet, 10 cas</span><span class="ln l2">seulement peuvent faire évoluer rapidement et de manière importante les taux d’incidence. <b>Ces données sont donc à interpréter avec beaucoup de</b></span><span class="ln l3 last"><b>vigilance</b>, mais elles traduisent néanmoins que le virus circule sur l’ensemble des territoires.</span></p>
<p class="cap"><span style="letter-spacing:-0.015px">La carte représente par une échelle de couleurs les incidences calculées au niveau de chaque EPCI ;</span><br><span style="letter-spacing:0.045px">le nombre donné dans chaque EPCI représente le nombre de cas sur une période de 7 jours.</span></p>
<p class="cta"><span class="ar">→</span>Les données détaillées se trouvent en annexe</p>
</body>
</html>
